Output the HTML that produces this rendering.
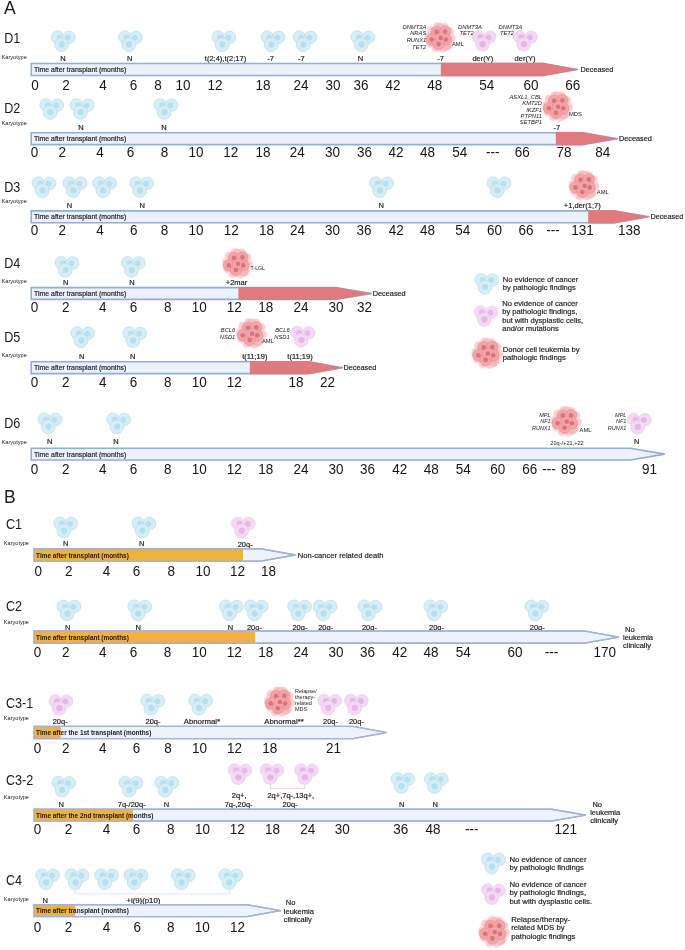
<!DOCTYPE html>
<html><head><meta charset="utf-8"><title>Timeline figure</title>
<style>
html,body{margin:0;padding:0;background:#fff;}
body{width:685px;height:950px;overflow:hidden;}
svg{display:block;will-change:transform;font-family:"Liberation Sans",sans-serif;}
</style></head><body>
<svg width="685" height="950" viewBox="0 0 685 950">

<text x="4.00" y="14.30" font-size="17.5" text-anchor="start" fill="#1a1a1a">A</text>
<text x="0.00" y="0.00" font-size="14" text-anchor="start" fill="#1a1a1a" transform="translate(4.20,43.00) scale(0.9,1.0)">D1</text>
<text x="1.60" y="58.60" font-size="5.6" text-anchor="start" fill="#1a1a1a">Karyotype</text>
<g transform="translate(63.30,41.00)"><g transform="translate(-12.4,-11)"><circle cx="6.7" cy="7.1" r="6.25" fill="#d7eef6" stroke="#bddfec" stroke-width="0.8"/><circle cx="8.5" cy="7.4" r="2.9" fill="#b6e0ee"/><circle cx="18.0" cy="7.3" r="6.25" fill="#d7eef6" stroke="#bddfec" stroke-width="0.8"/><circle cx="16.8" cy="7.6" r="2.9" fill="#b6e0ee"/><circle cx="10.6" cy="14.6" r="6.9" fill="#d7eef6" stroke="#bddfec" stroke-width="0.8"/><circle cx="10.9" cy="14.4" r="3.1" fill="#b6e0ee"/></g></g>
<g transform="translate(130.50,41.00)"><g transform="translate(-12.4,-11)"><circle cx="6.7" cy="7.1" r="6.25" fill="#d7eef6" stroke="#bddfec" stroke-width="0.8"/><circle cx="8.5" cy="7.4" r="2.9" fill="#b6e0ee"/><circle cx="18.0" cy="7.3" r="6.25" fill="#d7eef6" stroke="#bddfec" stroke-width="0.8"/><circle cx="16.8" cy="7.6" r="2.9" fill="#b6e0ee"/><circle cx="10.6" cy="14.6" r="6.9" fill="#d7eef6" stroke="#bddfec" stroke-width="0.8"/><circle cx="10.9" cy="14.4" r="3.1" fill="#b6e0ee"/></g></g>
<g transform="translate(224.00,41.00)"><g transform="translate(-12.4,-11)"><circle cx="6.7" cy="7.1" r="6.25" fill="#d7eef6" stroke="#bddfec" stroke-width="0.8"/><circle cx="8.5" cy="7.4" r="2.9" fill="#b6e0ee"/><circle cx="18.0" cy="7.3" r="6.25" fill="#d7eef6" stroke="#bddfec" stroke-width="0.8"/><circle cx="16.8" cy="7.6" r="2.9" fill="#b6e0ee"/><circle cx="10.6" cy="14.6" r="6.9" fill="#d7eef6" stroke="#bddfec" stroke-width="0.8"/><circle cx="10.9" cy="14.4" r="3.1" fill="#b6e0ee"/></g></g>
<g transform="translate(273.00,41.00)"><g transform="translate(-12.4,-11)"><circle cx="6.7" cy="7.1" r="6.25" fill="#d7eef6" stroke="#bddfec" stroke-width="0.8"/><circle cx="8.5" cy="7.4" r="2.9" fill="#b6e0ee"/><circle cx="18.0" cy="7.3" r="6.25" fill="#d7eef6" stroke="#bddfec" stroke-width="0.8"/><circle cx="16.8" cy="7.6" r="2.9" fill="#b6e0ee"/><circle cx="10.6" cy="14.6" r="6.9" fill="#d7eef6" stroke="#bddfec" stroke-width="0.8"/><circle cx="10.9" cy="14.4" r="3.1" fill="#b6e0ee"/></g></g>
<g transform="translate(305.00,41.00)"><g transform="translate(-12.4,-11)"><circle cx="6.7" cy="7.1" r="6.25" fill="#d7eef6" stroke="#bddfec" stroke-width="0.8"/><circle cx="8.5" cy="7.4" r="2.9" fill="#b6e0ee"/><circle cx="18.0" cy="7.3" r="6.25" fill="#d7eef6" stroke="#bddfec" stroke-width="0.8"/><circle cx="16.8" cy="7.6" r="2.9" fill="#b6e0ee"/><circle cx="10.6" cy="14.6" r="6.9" fill="#d7eef6" stroke="#bddfec" stroke-width="0.8"/><circle cx="10.9" cy="14.4" r="3.1" fill="#b6e0ee"/></g></g>
<g transform="translate(363.00,41.00)"><g transform="translate(-12.4,-11)"><circle cx="6.7" cy="7.1" r="6.25" fill="#d7eef6" stroke="#bddfec" stroke-width="0.8"/><circle cx="8.5" cy="7.4" r="2.9" fill="#b6e0ee"/><circle cx="18.0" cy="7.3" r="6.25" fill="#d7eef6" stroke="#bddfec" stroke-width="0.8"/><circle cx="16.8" cy="7.6" r="2.9" fill="#b6e0ee"/><circle cx="10.6" cy="14.6" r="6.9" fill="#d7eef6" stroke="#bddfec" stroke-width="0.8"/><circle cx="10.9" cy="14.4" r="3.1" fill="#b6e0ee"/></g></g>
<g transform="translate(440.80,37.90)"><g fill="#f9d9db" opacity="0.55"><circle cx="10.36" cy="0.56" r="4.9"/><circle cx="7.70" cy="6.82" r="4.9"/><circle cx="1.87" cy="10.32" r="4.9"/><circle cx="-4.90" cy="9.73" r="4.9"/><circle cx="-10.03" cy="5.27" r="4.9"/><circle cx="-11.56" cy="-1.36" r="4.9"/><circle cx="-8.90" cy="-7.62" r="4.9"/><circle cx="-3.07" cy="-11.12" r="4.9"/><circle cx="3.70" cy="-10.53" r="4.9"/><circle cx="8.83" cy="-6.07" r="4.9"/></g><g fill="#f7c8cb" opacity="0.75"><circle cx="10.36" cy="0.56" r="4.1"/><circle cx="7.70" cy="6.82" r="4.1"/><circle cx="1.87" cy="10.32" r="4.1"/><circle cx="-4.90" cy="9.73" r="4.1"/><circle cx="-10.03" cy="5.27" r="4.1"/><circle cx="-11.56" cy="-1.36" r="4.1"/><circle cx="-8.90" cy="-7.62" r="4.1"/><circle cx="-3.07" cy="-11.12" r="4.1"/><circle cx="3.70" cy="-10.53" r="4.1"/><circle cx="8.83" cy="-6.07" r="4.1"/></g><circle cx="5.5" cy="7.8" r="5" fill="#f5b8bc"/><circle cx="-0.5" cy="-10.5" r="4.5" fill="#f6c0c4"/><g fill="#f3a4a9" stroke="#e68d93" stroke-width="0.6"><circle cx="-4.10" cy="-6.00" r="5.7"/><circle cx="4.30" cy="-6.40" r="5.7"/><circle cx="-9.20" cy="1.60" r="5.7"/><circle cx="5.20" cy="1.60" r="5.7"/><circle cx="-2.20" cy="6.20" r="5.7"/><circle cx="0.00" cy="0.00" r="5.7"/></g><g fill="#d8757c"><circle cx="-4.10" cy="-6.00" r="2.3"/><circle cx="4.30" cy="-6.40" r="2.3"/><circle cx="-9.20" cy="1.60" r="2.3"/><circle cx="5.20" cy="1.60" r="2.3"/><circle cx="-2.20" cy="6.20" r="2.3"/><circle cx="0.00" cy="0.00" r="2.3"/></g></g>
<g transform="translate(484.20,40.80)"><g transform="translate(-12.4,-11)"><circle cx="6.7" cy="7.1" r="6.25" fill="#f4d8f4" stroke="#ebc8ee" stroke-width="0.6"/><circle cx="8.5" cy="7.4" r="2.9" fill="#e2b9e6"/><circle cx="18.0" cy="7.3" r="6.25" fill="#f4d8f4" stroke="#ebc8ee" stroke-width="0.6"/><circle cx="16.8" cy="7.6" r="2.9" fill="#e2b9e6"/><circle cx="10.6" cy="14.6" r="6.9" fill="#f4d8f4" stroke="#ebc8ee" stroke-width="0.6"/><circle cx="10.9" cy="14.4" r="3.1" fill="#e2b9e6"/></g></g>
<g transform="translate(525.50,40.80)"><g transform="translate(-12.4,-11)"><circle cx="6.7" cy="7.1" r="6.25" fill="#f4d8f4" stroke="#ebc8ee" stroke-width="0.6"/><circle cx="8.5" cy="7.4" r="2.9" fill="#e2b9e6"/><circle cx="18.0" cy="7.3" r="6.25" fill="#f4d8f4" stroke="#ebc8ee" stroke-width="0.6"/><circle cx="16.8" cy="7.6" r="2.9" fill="#e2b9e6"/><circle cx="10.6" cy="14.6" r="6.9" fill="#f4d8f4" stroke="#ebc8ee" stroke-width="0.6"/><circle cx="10.9" cy="14.4" r="3.1" fill="#e2b9e6"/></g></g>
<text x="426.30" y="28.80" font-size="5.8" text-anchor="end" font-style="italic" fill="#1a1a1a">DNMT3A</text>
<text x="426.30" y="35.40" font-size="5.8" text-anchor="end" font-style="italic" fill="#1a1a1a">NRAS</text>
<text x="426.30" y="41.90" font-size="5.8" text-anchor="end" font-style="italic" fill="#1a1a1a">RUNX1</text>
<text x="426.30" y="48.60" font-size="5.8" text-anchor="end" font-style="italic" fill="#1a1a1a">TET2</text>
<text x="452.00" y="46.00" font-size="5.8" text-anchor="start" fill="#1a1a1a">AML</text>
<text x="470.00" y="28.90" font-size="5.8" text-anchor="middle" font-style="italic" fill="#1a1a1a">DNMT3A</text>
<text x="466.60" y="35.40" font-size="5.8" text-anchor="middle" font-style="italic" fill="#1a1a1a">TET2</text>
<text x="510.50" y="28.90" font-size="5.8" text-anchor="middle" font-style="italic" fill="#1a1a1a">DNMT3A</text>
<text x="507.00" y="35.40" font-size="5.8" text-anchor="middle" font-style="italic" fill="#1a1a1a">TET2</text>
<text x="63.00" y="60.60" font-size="7.5" text-anchor="middle" fill="#1a1a1a" stroke="#1a1a1a" stroke-width="0.18">N</text>
<text x="129.70" y="60.60" font-size="7.5" text-anchor="middle" fill="#1a1a1a" stroke="#1a1a1a" stroke-width="0.18">N</text>
<text x="225.50" y="60.60" font-size="7.5" text-anchor="middle" fill="#1a1a1a" stroke="#1a1a1a" stroke-width="0.18">t(2;4),t(2;17)</text>
<text x="270.60" y="60.60" font-size="7.5" text-anchor="middle" fill="#1a1a1a" stroke="#1a1a1a" stroke-width="0.18">-7</text>
<text x="301.40" y="60.60" font-size="7.5" text-anchor="middle" fill="#1a1a1a" stroke="#1a1a1a" stroke-width="0.18">-7</text>
<text x="360.50" y="60.60" font-size="7.5" text-anchor="middle" fill="#1a1a1a" stroke="#1a1a1a" stroke-width="0.18">N</text>
<text x="440.60" y="60.60" font-size="7.5" text-anchor="middle" fill="#1a1a1a" stroke="#1a1a1a" stroke-width="0.18">-7</text>
<text x="482.80" y="60.60" font-size="7.5" text-anchor="middle" fill="#1a1a1a" stroke="#1a1a1a" stroke-width="0.18">der(Y)</text>
<text x="525.00" y="60.60" font-size="7.5" text-anchor="middle" fill="#1a1a1a" stroke="#1a1a1a" stroke-width="0.18">der(Y)</text>
<polygon points="31.3,63.45 543,63.45 578,69.5 543,75.55 31.3,75.55" fill="#ecf2fb" stroke="#93acda" stroke-width="1.6" stroke-linejoin="miter"/>
<polygon points="440.8,62.75 543,62.75 578.5,69.5 543,76.25 440.8,76.25" fill="#e07a7e"/>
<text x="0.00" y="0.00" font-size="7.2" text-anchor="start" fill="#1a1a1a" stroke="#1a1a1a" stroke-width="0.18" transform="translate(34.10,72.10) scale(0.96,1.0)">Time after transplant (months)</text>
<text x="580.50" y="72.00" font-size="7.3" text-anchor="start" fill="#1a1a1a" stroke="#1a1a1a" stroke-width="0.18">Deceased</text>
<text x="0.00" y="0.00" font-size="13.5" text-anchor="middle" fill="#151515" transform="translate(35.00,89.80) scale(1.0,1.08)">0</text>
<text x="0.00" y="0.00" font-size="13.5" text-anchor="middle" fill="#151515" transform="translate(66.00,89.80) scale(1.0,1.08)">2</text>
<text x="0.00" y="0.00" font-size="13.5" text-anchor="middle" fill="#151515" transform="translate(103.00,89.80) scale(1.0,1.08)">4</text>
<text x="0.00" y="0.00" font-size="13.5" text-anchor="middle" fill="#151515" transform="translate(133.60,89.80) scale(1.0,1.08)">6</text>
<text x="0.00" y="0.00" font-size="13.5" text-anchor="middle" fill="#151515" transform="translate(158.00,89.80) scale(1.0,1.08)">8</text>
<text x="0.00" y="0.00" font-size="13.5" text-anchor="middle" fill="#151515" transform="translate(183.00,89.80) scale(1.0,1.08)">10</text>
<text x="0.00" y="0.00" font-size="13.5" text-anchor="middle" fill="#151515" transform="translate(215.00,89.80) scale(1.0,1.08)">12</text>
<text x="0.00" y="0.00" font-size="13.5" text-anchor="middle" fill="#151515" transform="translate(262.90,89.80) scale(1.0,1.08)">18</text>
<text x="0.00" y="0.00" font-size="13.5" text-anchor="middle" fill="#151515" transform="translate(301.00,89.80) scale(1.0,1.08)">24</text>
<text x="0.00" y="0.00" font-size="13.5" text-anchor="middle" fill="#151515" transform="translate(333.00,89.80) scale(1.0,1.08)">30</text>
<text x="0.00" y="0.00" font-size="13.5" text-anchor="middle" fill="#151515" transform="translate(361.00,89.80) scale(1.0,1.08)">36</text>
<text x="0.00" y="0.00" font-size="13.5" text-anchor="middle" fill="#151515" transform="translate(393.00,89.80) scale(1.0,1.08)">42</text>
<text x="0.00" y="0.00" font-size="13.5" text-anchor="middle" fill="#151515" transform="translate(434.70,89.80) scale(1.0,1.08)">48</text>
<text x="0.00" y="0.00" font-size="13.5" text-anchor="middle" fill="#151515" transform="translate(486.70,89.80) scale(1.0,1.08)">54</text>
<text x="0.00" y="0.00" font-size="13.5" text-anchor="middle" fill="#151515" transform="translate(531.00,89.80) scale(1.0,1.08)">60</text>
<text x="0.00" y="0.00" font-size="13.5" text-anchor="middle" fill="#151515" transform="translate(572.80,89.80) scale(1.0,1.08)">66</text>
<text x="0.00" y="0.00" font-size="14" text-anchor="start" fill="#1a1a1a" transform="translate(4.20,112.80) scale(0.9,1.0)">D2</text>
<text x="1.60" y="124.50" font-size="5.6" text-anchor="start" fill="#1a1a1a">Karyotype</text>
<g transform="translate(51.80,108.80)"><g transform="translate(-12.4,-11)"><circle cx="6.7" cy="7.1" r="6.25" fill="#d7eef6" stroke="#bddfec" stroke-width="0.8"/><circle cx="8.5" cy="7.4" r="2.9" fill="#b6e0ee"/><circle cx="18.0" cy="7.3" r="6.25" fill="#d7eef6" stroke="#bddfec" stroke-width="0.8"/><circle cx="16.8" cy="7.6" r="2.9" fill="#b6e0ee"/><circle cx="10.6" cy="14.6" r="6.9" fill="#d7eef6" stroke="#bddfec" stroke-width="0.8"/><circle cx="10.9" cy="14.4" r="3.1" fill="#b6e0ee"/></g></g>
<g transform="translate(82.20,108.80)"><g transform="translate(-12.4,-11)"><circle cx="6.7" cy="7.1" r="6.25" fill="#d7eef6" stroke="#bddfec" stroke-width="0.8"/><circle cx="8.5" cy="7.4" r="2.9" fill="#b6e0ee"/><circle cx="18.0" cy="7.3" r="6.25" fill="#d7eef6" stroke="#bddfec" stroke-width="0.8"/><circle cx="16.8" cy="7.6" r="2.9" fill="#b6e0ee"/><circle cx="10.6" cy="14.6" r="6.9" fill="#d7eef6" stroke="#bddfec" stroke-width="0.8"/><circle cx="10.9" cy="14.4" r="3.1" fill="#b6e0ee"/></g></g>
<g transform="translate(166.00,108.80)"><g transform="translate(-12.4,-11)"><circle cx="6.7" cy="7.1" r="6.25" fill="#d7eef6" stroke="#bddfec" stroke-width="0.8"/><circle cx="8.5" cy="7.4" r="2.9" fill="#b6e0ee"/><circle cx="18.0" cy="7.3" r="6.25" fill="#d7eef6" stroke="#bddfec" stroke-width="0.8"/><circle cx="16.8" cy="7.6" r="2.9" fill="#b6e0ee"/><circle cx="10.6" cy="14.6" r="6.9" fill="#d7eef6" stroke="#bddfec" stroke-width="0.8"/><circle cx="10.9" cy="14.4" r="3.1" fill="#b6e0ee"/></g></g>
<g transform="translate(558.10,106.70)"><g fill="#f9d9db" opacity="0.55"><circle cx="10.36" cy="0.56" r="4.9"/><circle cx="7.70" cy="6.82" r="4.9"/><circle cx="1.87" cy="10.32" r="4.9"/><circle cx="-4.90" cy="9.73" r="4.9"/><circle cx="-10.03" cy="5.27" r="4.9"/><circle cx="-11.56" cy="-1.36" r="4.9"/><circle cx="-8.90" cy="-7.62" r="4.9"/><circle cx="-3.07" cy="-11.12" r="4.9"/><circle cx="3.70" cy="-10.53" r="4.9"/><circle cx="8.83" cy="-6.07" r="4.9"/></g><g fill="#f7c8cb" opacity="0.75"><circle cx="10.36" cy="0.56" r="4.1"/><circle cx="7.70" cy="6.82" r="4.1"/><circle cx="1.87" cy="10.32" r="4.1"/><circle cx="-4.90" cy="9.73" r="4.1"/><circle cx="-10.03" cy="5.27" r="4.1"/><circle cx="-11.56" cy="-1.36" r="4.1"/><circle cx="-8.90" cy="-7.62" r="4.1"/><circle cx="-3.07" cy="-11.12" r="4.1"/><circle cx="3.70" cy="-10.53" r="4.1"/><circle cx="8.83" cy="-6.07" r="4.1"/></g><circle cx="5.5" cy="7.8" r="5" fill="#f5b8bc"/><circle cx="-0.5" cy="-10.5" r="4.5" fill="#f6c0c4"/><g fill="#f3a4a9" stroke="#e68d93" stroke-width="0.6"><circle cx="-4.10" cy="-6.00" r="5.7"/><circle cx="4.30" cy="-6.40" r="5.7"/><circle cx="-9.20" cy="1.60" r="5.7"/><circle cx="5.20" cy="1.60" r="5.7"/><circle cx="-2.20" cy="6.20" r="5.7"/><circle cx="0.00" cy="0.00" r="5.7"/></g><g fill="#d8757c"><circle cx="-4.10" cy="-6.00" r="2.3"/><circle cx="4.30" cy="-6.40" r="2.3"/><circle cx="-9.20" cy="1.60" r="2.3"/><circle cx="5.20" cy="1.60" r="2.3"/><circle cx="-2.20" cy="6.20" r="2.3"/><circle cx="0.00" cy="0.00" r="2.3"/></g></g>
<text x="542.00" y="98.80" font-size="5.8" text-anchor="end" font-style="italic" fill="#1a1a1a">ASXL1, CBL</text>
<text x="542.00" y="105.40" font-size="5.8" text-anchor="end" font-style="italic" fill="#1a1a1a">KMT2D</text>
<text x="542.00" y="111.60" font-size="5.8" text-anchor="end" font-style="italic" fill="#1a1a1a">IKZF1</text>
<text x="542.00" y="118.00" font-size="5.8" text-anchor="end" font-style="italic" fill="#1a1a1a">PTPN11</text>
<text x="542.00" y="124.40" font-size="5.8" text-anchor="end" font-style="italic" fill="#1a1a1a">SETBP1</text>
<text x="569.00" y="115.50" font-size="5.8" text-anchor="start" fill="#1a1a1a">MDS</text>
<text x="80.90" y="130.20" font-size="7.5" text-anchor="middle" fill="#1a1a1a" stroke="#1a1a1a" stroke-width="0.18">N</text>
<text x="164.00" y="130.20" font-size="7.5" text-anchor="middle" fill="#1a1a1a" stroke="#1a1a1a" stroke-width="0.18">N</text>
<text x="556.80" y="130.20" font-size="7.5" text-anchor="middle" fill="#1a1a1a" stroke="#1a1a1a" stroke-width="0.18">-7</text>
<polygon points="31.2,132.8 582.4,132.8 617.7,138.7 582.4,144.6 31.2,144.6" fill="#ecf2fb" stroke="#93acda" stroke-width="1.6" stroke-linejoin="miter"/>
<polygon points="555.8,132.10000000000002 582.4,132.10000000000002 618.2,138.7 582.4,145.29999999999998 555.8,145.29999999999998" fill="#e07a7e"/>
<text x="0.00" y="0.00" font-size="7.2" text-anchor="start" fill="#1a1a1a" stroke="#1a1a1a" stroke-width="0.18" transform="translate(34.10,141.30) scale(0.96,1.0)">Time after transplant (months)</text>
<text x="619.00" y="141.30" font-size="7.3" text-anchor="start" fill="#1a1a1a" stroke="#1a1a1a" stroke-width="0.18">Deceased</text>
<text x="0.00" y="0.00" font-size="13.5" text-anchor="middle" fill="#151515" transform="translate(34.50,157.20) scale(1.0,1.08)">0</text>
<text x="0.00" y="0.00" font-size="13.5" text-anchor="middle" fill="#151515" transform="translate(62.20,157.20) scale(1.0,1.08)">2</text>
<text x="0.00" y="0.00" font-size="13.5" text-anchor="middle" fill="#151515" transform="translate(99.90,157.20) scale(1.0,1.08)">4</text>
<text x="0.00" y="0.00" font-size="13.5" text-anchor="middle" fill="#151515" transform="translate(130.50,157.20) scale(1.0,1.08)">6</text>
<text x="0.00" y="0.00" font-size="13.5" text-anchor="middle" fill="#151515" transform="translate(164.40,157.20) scale(1.0,1.08)">8</text>
<text x="0.00" y="0.00" font-size="13.5" text-anchor="middle" fill="#151515" transform="translate(196.00,157.20) scale(1.0,1.08)">10</text>
<text x="0.00" y="0.00" font-size="13.5" text-anchor="middle" fill="#151515" transform="translate(230.70,157.20) scale(1.0,1.08)">12</text>
<text x="0.00" y="0.00" font-size="13.5" text-anchor="middle" fill="#151515" transform="translate(262.90,157.20) scale(1.0,1.08)">18</text>
<text x="0.00" y="0.00" font-size="13.5" text-anchor="middle" fill="#151515" transform="translate(297.20,157.20) scale(1.0,1.08)">24</text>
<text x="0.00" y="0.00" font-size="13.5" text-anchor="middle" fill="#151515" transform="translate(332.50,157.20) scale(1.0,1.08)">30</text>
<text x="0.00" y="0.00" font-size="13.5" text-anchor="middle" fill="#151515" transform="translate(364.60,157.20) scale(1.0,1.08)">36</text>
<text x="0.00" y="0.00" font-size="13.5" text-anchor="middle" fill="#151515" transform="translate(396.00,157.20) scale(1.0,1.08)">42</text>
<text x="0.00" y="0.00" font-size="13.5" text-anchor="middle" fill="#151515" transform="translate(427.40,157.20) scale(1.0,1.08)">48</text>
<text x="0.00" y="0.00" font-size="13.5" text-anchor="middle" fill="#151515" transform="translate(459.70,157.20) scale(1.0,1.08)">54</text>
<text x="0.00" y="0.00" font-size="13.5" text-anchor="middle" fill="#151515" transform="translate(492.70,157.20) scale(1.0,1.08)">---</text>
<text x="0.00" y="0.00" font-size="13.5" text-anchor="middle" fill="#151515" transform="translate(522.30,157.20) scale(1.0,1.08)">66</text>
<text x="0.00" y="0.00" font-size="13.5" text-anchor="middle" fill="#151515" transform="translate(564.00,157.20) scale(1.0,1.08)">78</text>
<text x="0.00" y="0.00" font-size="13.5" text-anchor="middle" fill="#151515" transform="translate(602.80,157.20) scale(1.0,1.08)">84</text>
<text x="0.00" y="0.00" font-size="14" text-anchor="start" fill="#1a1a1a" transform="translate(4.20,191.50) scale(0.9,1.0)">D3</text>
<text x="1.60" y="203.00" font-size="5.6" text-anchor="start" fill="#1a1a1a">Karyotype</text>
<g transform="translate(44.00,187.00)"><g transform="translate(-12.4,-11)"><circle cx="6.7" cy="7.1" r="6.25" fill="#d7eef6" stroke="#bddfec" stroke-width="0.8"/><circle cx="8.5" cy="7.4" r="2.9" fill="#b6e0ee"/><circle cx="18.0" cy="7.3" r="6.25" fill="#d7eef6" stroke="#bddfec" stroke-width="0.8"/><circle cx="16.8" cy="7.6" r="2.9" fill="#b6e0ee"/><circle cx="10.6" cy="14.6" r="6.9" fill="#d7eef6" stroke="#bddfec" stroke-width="0.8"/><circle cx="10.9" cy="14.4" r="3.1" fill="#b6e0ee"/></g></g>
<g transform="translate(75.00,187.00)"><g transform="translate(-12.4,-11)"><circle cx="6.7" cy="7.1" r="6.25" fill="#d7eef6" stroke="#bddfec" stroke-width="0.8"/><circle cx="8.5" cy="7.4" r="2.9" fill="#b6e0ee"/><circle cx="18.0" cy="7.3" r="6.25" fill="#d7eef6" stroke="#bddfec" stroke-width="0.8"/><circle cx="16.8" cy="7.6" r="2.9" fill="#b6e0ee"/><circle cx="10.6" cy="14.6" r="6.9" fill="#d7eef6" stroke="#bddfec" stroke-width="0.8"/><circle cx="10.9" cy="14.4" r="3.1" fill="#b6e0ee"/></g></g>
<g transform="translate(104.80,187.00)"><g transform="translate(-12.4,-11)"><circle cx="6.7" cy="7.1" r="6.25" fill="#d7eef6" stroke="#bddfec" stroke-width="0.8"/><circle cx="8.5" cy="7.4" r="2.9" fill="#b6e0ee"/><circle cx="18.0" cy="7.3" r="6.25" fill="#d7eef6" stroke="#bddfec" stroke-width="0.8"/><circle cx="16.8" cy="7.6" r="2.9" fill="#b6e0ee"/><circle cx="10.6" cy="14.6" r="6.9" fill="#d7eef6" stroke="#bddfec" stroke-width="0.8"/><circle cx="10.9" cy="14.4" r="3.1" fill="#b6e0ee"/></g></g>
<g transform="translate(141.60,187.00)"><g transform="translate(-12.4,-11)"><circle cx="6.7" cy="7.1" r="6.25" fill="#d7eef6" stroke="#bddfec" stroke-width="0.8"/><circle cx="8.5" cy="7.4" r="2.9" fill="#b6e0ee"/><circle cx="18.0" cy="7.3" r="6.25" fill="#d7eef6" stroke="#bddfec" stroke-width="0.8"/><circle cx="16.8" cy="7.6" r="2.9" fill="#b6e0ee"/><circle cx="10.6" cy="14.6" r="6.9" fill="#d7eef6" stroke="#bddfec" stroke-width="0.8"/><circle cx="10.9" cy="14.4" r="3.1" fill="#b6e0ee"/></g></g>
<g transform="translate(381.50,187.00)"><g transform="translate(-12.4,-11)"><circle cx="6.7" cy="7.1" r="6.25" fill="#d7eef6" stroke="#bddfec" stroke-width="0.8"/><circle cx="8.5" cy="7.4" r="2.9" fill="#b6e0ee"/><circle cx="18.0" cy="7.3" r="6.25" fill="#d7eef6" stroke="#bddfec" stroke-width="0.8"/><circle cx="16.8" cy="7.6" r="2.9" fill="#b6e0ee"/><circle cx="10.6" cy="14.6" r="6.9" fill="#d7eef6" stroke="#bddfec" stroke-width="0.8"/><circle cx="10.9" cy="14.4" r="3.1" fill="#b6e0ee"/></g></g>
<g transform="translate(499.00,187.00)"><g transform="translate(-12.4,-11)"><circle cx="6.7" cy="7.1" r="6.25" fill="#d7eef6" stroke="#bddfec" stroke-width="0.8"/><circle cx="8.5" cy="7.4" r="2.9" fill="#b6e0ee"/><circle cx="18.0" cy="7.3" r="6.25" fill="#d7eef6" stroke="#bddfec" stroke-width="0.8"/><circle cx="16.8" cy="7.6" r="2.9" fill="#b6e0ee"/><circle cx="10.6" cy="14.6" r="6.9" fill="#d7eef6" stroke="#bddfec" stroke-width="0.8"/><circle cx="10.9" cy="14.4" r="3.1" fill="#b6e0ee"/></g></g>
<g transform="translate(584.50,185.80)"><g fill="#f9d9db" opacity="0.55"><circle cx="10.36" cy="0.56" r="4.9"/><circle cx="7.70" cy="6.82" r="4.9"/><circle cx="1.87" cy="10.32" r="4.9"/><circle cx="-4.90" cy="9.73" r="4.9"/><circle cx="-10.03" cy="5.27" r="4.9"/><circle cx="-11.56" cy="-1.36" r="4.9"/><circle cx="-8.90" cy="-7.62" r="4.9"/><circle cx="-3.07" cy="-11.12" r="4.9"/><circle cx="3.70" cy="-10.53" r="4.9"/><circle cx="8.83" cy="-6.07" r="4.9"/></g><g fill="#f7c8cb" opacity="0.75"><circle cx="10.36" cy="0.56" r="4.1"/><circle cx="7.70" cy="6.82" r="4.1"/><circle cx="1.87" cy="10.32" r="4.1"/><circle cx="-4.90" cy="9.73" r="4.1"/><circle cx="-10.03" cy="5.27" r="4.1"/><circle cx="-11.56" cy="-1.36" r="4.1"/><circle cx="-8.90" cy="-7.62" r="4.1"/><circle cx="-3.07" cy="-11.12" r="4.1"/><circle cx="3.70" cy="-10.53" r="4.1"/><circle cx="8.83" cy="-6.07" r="4.1"/></g><circle cx="5.5" cy="7.8" r="5" fill="#f5b8bc"/><circle cx="-0.5" cy="-10.5" r="4.5" fill="#f6c0c4"/><g fill="#f3a4a9" stroke="#e68d93" stroke-width="0.6"><circle cx="-4.10" cy="-6.00" r="5.7"/><circle cx="4.30" cy="-6.40" r="5.7"/><circle cx="-9.20" cy="1.60" r="5.7"/><circle cx="5.20" cy="1.60" r="5.7"/><circle cx="-2.20" cy="6.20" r="5.7"/><circle cx="0.00" cy="0.00" r="5.7"/></g><g fill="#d8757c"><circle cx="-4.10" cy="-6.00" r="2.3"/><circle cx="4.30" cy="-6.40" r="2.3"/><circle cx="-9.20" cy="1.60" r="2.3"/><circle cx="5.20" cy="1.60" r="2.3"/><circle cx="-2.20" cy="6.20" r="2.3"/><circle cx="0.00" cy="0.00" r="2.3"/></g></g>
<text x="596.80" y="194.30" font-size="5.8" text-anchor="start" fill="#1a1a1a">AML</text>
<text x="69.50" y="208.30" font-size="7.5" text-anchor="middle" fill="#1a1a1a" stroke="#1a1a1a" stroke-width="0.18">N</text>
<text x="142.20" y="208.30" font-size="7.5" text-anchor="middle" fill="#1a1a1a" stroke="#1a1a1a" stroke-width="0.18">N</text>
<text x="381.10" y="208.30" font-size="7.5" text-anchor="middle" fill="#1a1a1a" stroke="#1a1a1a" stroke-width="0.18">N</text>
<text x="582.30" y="208.30" font-size="7.5" text-anchor="middle" fill="#1a1a1a" stroke="#1a1a1a" stroke-width="0.18">+1,der(1;7)</text>
<polygon points="31.2,210.9 614.4,210.9 649.3,216.8 614.4,222.7 31.2,222.7" fill="#ecf2fb" stroke="#93acda" stroke-width="1.6" stroke-linejoin="miter"/>
<polygon points="588.2,210.20000000000002 614.4,210.20000000000002 649.8,216.8 614.4,223.39999999999998 588.2,223.39999999999998" fill="#e07a7e"/>
<text x="0.00" y="0.00" font-size="7.2" text-anchor="start" fill="#1a1a1a" stroke="#1a1a1a" stroke-width="0.18" transform="translate(34.10,219.40) scale(0.96,1.0)">Time after transplant (months)</text>
<text x="650.40" y="218.90" font-size="7.3" text-anchor="start" fill="#1a1a1a" stroke="#1a1a1a" stroke-width="0.18">Deceased</text>
<text x="0.00" y="0.00" font-size="13.5" text-anchor="middle" fill="#151515" transform="translate(34.50,235.20) scale(1.0,1.08)">0</text>
<text x="0.00" y="0.00" font-size="13.5" text-anchor="middle" fill="#151515" transform="translate(62.20,235.20) scale(1.0,1.08)">2</text>
<text x="0.00" y="0.00" font-size="13.5" text-anchor="middle" fill="#151515" transform="translate(99.90,235.20) scale(1.0,1.08)">4</text>
<text x="0.00" y="0.00" font-size="13.5" text-anchor="middle" fill="#151515" transform="translate(133.70,235.20) scale(1.0,1.08)">6</text>
<text x="0.00" y="0.00" font-size="13.5" text-anchor="middle" fill="#151515" transform="translate(164.40,235.20) scale(1.0,1.08)">8</text>
<text x="0.00" y="0.00" font-size="13.5" text-anchor="middle" fill="#151515" transform="translate(196.00,235.20) scale(1.0,1.08)">10</text>
<text x="0.00" y="0.00" font-size="13.5" text-anchor="middle" fill="#151515" transform="translate(231.20,235.20) scale(1.0,1.08)">12</text>
<text x="0.00" y="0.00" font-size="13.5" text-anchor="middle" fill="#151515" transform="translate(266.50,235.20) scale(1.0,1.08)">18</text>
<text x="0.00" y="0.00" font-size="13.5" text-anchor="middle" fill="#151515" transform="translate(297.60,235.20) scale(1.0,1.08)">24</text>
<text x="0.00" y="0.00" font-size="13.5" text-anchor="middle" fill="#151515" transform="translate(332.60,235.20) scale(1.0,1.08)">30</text>
<text x="0.00" y="0.00" font-size="13.5" text-anchor="middle" fill="#151515" transform="translate(364.00,235.20) scale(1.0,1.08)">36</text>
<text x="0.00" y="0.00" font-size="13.5" text-anchor="middle" fill="#151515" transform="translate(396.30,235.20) scale(1.0,1.08)">42</text>
<text x="0.00" y="0.00" font-size="13.5" text-anchor="middle" fill="#151515" transform="translate(427.40,235.20) scale(1.0,1.08)">48</text>
<text x="0.00" y="0.00" font-size="13.5" text-anchor="middle" fill="#151515" transform="translate(462.80,235.20) scale(1.0,1.08)">54</text>
<text x="0.00" y="0.00" font-size="13.5" text-anchor="middle" fill="#151515" transform="translate(494.40,235.20) scale(1.0,1.08)">60</text>
<text x="0.00" y="0.00" font-size="13.5" text-anchor="middle" fill="#151515" transform="translate(526.00,235.20) scale(1.0,1.08)">66</text>
<text x="0.00" y="0.00" font-size="13.5" text-anchor="middle" fill="#151515" transform="translate(552.90,235.20) scale(1.0,1.08)">---</text>
<text x="0.00" y="0.00" font-size="13.5" text-anchor="middle" fill="#151515" transform="translate(582.60,235.20) scale(1.0,1.08)">131</text>
<text x="0.00" y="0.00" font-size="13.5" text-anchor="middle" fill="#151515" transform="translate(629.20,235.20) scale(1.0,1.08)">138</text>
<text x="0.00" y="0.00" font-size="14" text-anchor="start" fill="#1a1a1a" transform="translate(4.20,267.70) scale(0.9,1.0)">D4</text>
<text x="1.60" y="282.50" font-size="5.6" text-anchor="start" fill="#1a1a1a">Karyotype</text>
<g transform="translate(67.00,266.70)"><g transform="translate(-12.4,-11)"><circle cx="6.7" cy="7.1" r="6.25" fill="#d7eef6" stroke="#bddfec" stroke-width="0.8"/><circle cx="8.5" cy="7.4" r="2.9" fill="#b6e0ee"/><circle cx="18.0" cy="7.3" r="6.25" fill="#d7eef6" stroke="#bddfec" stroke-width="0.8"/><circle cx="16.8" cy="7.6" r="2.9" fill="#b6e0ee"/><circle cx="10.6" cy="14.6" r="6.9" fill="#d7eef6" stroke="#bddfec" stroke-width="0.8"/><circle cx="10.9" cy="14.4" r="3.1" fill="#b6e0ee"/></g></g>
<g transform="translate(133.30,266.70)"><g transform="translate(-12.4,-11)"><circle cx="6.7" cy="7.1" r="6.25" fill="#d7eef6" stroke="#bddfec" stroke-width="0.8"/><circle cx="8.5" cy="7.4" r="2.9" fill="#b6e0ee"/><circle cx="18.0" cy="7.3" r="6.25" fill="#d7eef6" stroke="#bddfec" stroke-width="0.8"/><circle cx="16.8" cy="7.6" r="2.9" fill="#b6e0ee"/><circle cx="10.6" cy="14.6" r="6.9" fill="#d7eef6" stroke="#bddfec" stroke-width="0.8"/><circle cx="10.9" cy="14.4" r="3.1" fill="#b6e0ee"/></g></g>
<g transform="translate(238.10,263.80)"><g fill="#f9d9db" opacity="0.55"><circle cx="10.36" cy="0.56" r="4.9"/><circle cx="7.70" cy="6.82" r="4.9"/><circle cx="1.87" cy="10.32" r="4.9"/><circle cx="-4.90" cy="9.73" r="4.9"/><circle cx="-10.03" cy="5.27" r="4.9"/><circle cx="-11.56" cy="-1.36" r="4.9"/><circle cx="-8.90" cy="-7.62" r="4.9"/><circle cx="-3.07" cy="-11.12" r="4.9"/><circle cx="3.70" cy="-10.53" r="4.9"/><circle cx="8.83" cy="-6.07" r="4.9"/></g><g fill="#f7c8cb" opacity="0.75"><circle cx="10.36" cy="0.56" r="4.1"/><circle cx="7.70" cy="6.82" r="4.1"/><circle cx="1.87" cy="10.32" r="4.1"/><circle cx="-4.90" cy="9.73" r="4.1"/><circle cx="-10.03" cy="5.27" r="4.1"/><circle cx="-11.56" cy="-1.36" r="4.1"/><circle cx="-8.90" cy="-7.62" r="4.1"/><circle cx="-3.07" cy="-11.12" r="4.1"/><circle cx="3.70" cy="-10.53" r="4.1"/><circle cx="8.83" cy="-6.07" r="4.1"/></g><circle cx="5.5" cy="7.8" r="5" fill="#f5b8bc"/><circle cx="-0.5" cy="-10.5" r="4.5" fill="#f6c0c4"/><g fill="#f3a4a9" stroke="#e68d93" stroke-width="0.6"><circle cx="-4.10" cy="-6.00" r="5.7"/><circle cx="4.30" cy="-6.40" r="5.7"/><circle cx="-9.20" cy="1.60" r="5.7"/><circle cx="5.20" cy="1.60" r="5.7"/><circle cx="-2.20" cy="6.20" r="5.7"/><circle cx="0.00" cy="0.00" r="5.7"/></g><g fill="#d8757c"><circle cx="-4.10" cy="-6.00" r="2.3"/><circle cx="4.30" cy="-6.40" r="2.3"/><circle cx="-9.20" cy="1.60" r="2.3"/><circle cx="5.20" cy="1.60" r="2.3"/><circle cx="-2.20" cy="6.20" r="2.3"/><circle cx="0.00" cy="0.00" r="2.3"/></g></g>
<text x="250.60" y="270.40" font-size="5.2" text-anchor="start" fill="#1a1a1a">T-LGL</text>
<text x="65.70" y="284.70" font-size="7.5" text-anchor="middle" fill="#1a1a1a" stroke="#1a1a1a" stroke-width="0.18">N</text>
<text x="132.00" y="284.70" font-size="7.5" text-anchor="middle" fill="#1a1a1a" stroke="#1a1a1a" stroke-width="0.18">N</text>
<text x="236.50" y="284.70" font-size="7.5" text-anchor="middle" fill="#1a1a1a" stroke="#1a1a1a" stroke-width="0.18">+2mar</text>
<polygon points="31.2,287.6 335.3,287.6 372.0,293.5 335.3,299.4 31.2,299.4" fill="#ecf2fb" stroke="#93acda" stroke-width="1.6" stroke-linejoin="miter"/>
<polygon points="238.4,286.90000000000003 335.3,286.90000000000003 372.5,293.5 335.3,300.09999999999997 238.4,300.09999999999997" fill="#e07a7e"/>
<text x="0.00" y="0.00" font-size="7.2" text-anchor="start" fill="#1a1a1a" stroke="#1a1a1a" stroke-width="0.18" transform="translate(34.10,296.10) scale(0.96,1.0)">Time after transplant (months)</text>
<text x="372.80" y="296.20" font-size="7.3" text-anchor="start" fill="#1a1a1a" stroke="#1a1a1a" stroke-width="0.18">Deceased</text>
<text x="0.00" y="0.00" font-size="13.5" text-anchor="middle" fill="#151515" transform="translate(34.50,311.50) scale(1.0,1.08)">0</text>
<text x="0.00" y="0.00" font-size="13.5" text-anchor="middle" fill="#151515" transform="translate(65.70,311.50) scale(1.0,1.08)">2</text>
<text x="0.00" y="0.00" font-size="13.5" text-anchor="middle" fill="#151515" transform="translate(102.80,311.50) scale(1.0,1.08)">4</text>
<text x="0.00" y="0.00" font-size="13.5" text-anchor="middle" fill="#151515" transform="translate(133.40,311.50) scale(1.0,1.08)">6</text>
<text x="0.00" y="0.00" font-size="13.5" text-anchor="middle" fill="#151515" transform="translate(167.80,311.50) scale(1.0,1.08)">8</text>
<text x="0.00" y="0.00" font-size="13.5" text-anchor="middle" fill="#151515" transform="translate(199.30,311.50) scale(1.0,1.08)">10</text>
<text x="0.00" y="0.00" font-size="13.5" text-anchor="middle" fill="#151515" transform="translate(234.30,311.50) scale(1.0,1.08)">12</text>
<text x="0.00" y="0.00" font-size="13.5" text-anchor="middle" fill="#151515" transform="translate(265.70,311.50) scale(1.0,1.08)">18</text>
<text x="0.00" y="0.00" font-size="13.5" text-anchor="middle" fill="#151515" transform="translate(301.00,311.50) scale(1.0,1.08)">24</text>
<text x="0.00" y="0.00" font-size="13.5" text-anchor="middle" fill="#151515" transform="translate(336.00,311.50) scale(1.0,1.08)">30</text>
<text x="0.00" y="0.00" font-size="13.5" text-anchor="middle" fill="#151515" transform="translate(364.40,311.50) scale(1.0,1.08)">32</text>
<text x="0.00" y="0.00" font-size="14" text-anchor="start" fill="#1a1a1a" transform="translate(4.20,341.50) scale(0.9,1.0)">D5</text>
<text x="1.60" y="357.00" font-size="5.6" text-anchor="start" fill="#1a1a1a">Karyotype</text>
<g transform="translate(82.80,337.00)"><g transform="translate(-12.4,-11)"><circle cx="6.7" cy="7.1" r="6.25" fill="#d7eef6" stroke="#bddfec" stroke-width="0.8"/><circle cx="8.5" cy="7.4" r="2.9" fill="#b6e0ee"/><circle cx="18.0" cy="7.3" r="6.25" fill="#d7eef6" stroke="#bddfec" stroke-width="0.8"/><circle cx="16.8" cy="7.6" r="2.9" fill="#b6e0ee"/><circle cx="10.6" cy="14.6" r="6.9" fill="#d7eef6" stroke="#bddfec" stroke-width="0.8"/><circle cx="10.9" cy="14.4" r="3.1" fill="#b6e0ee"/></g></g>
<g transform="translate(134.70,337.00)"><g transform="translate(-12.4,-11)"><circle cx="6.7" cy="7.1" r="6.25" fill="#d7eef6" stroke="#bddfec" stroke-width="0.8"/><circle cx="8.5" cy="7.4" r="2.9" fill="#b6e0ee"/><circle cx="18.0" cy="7.3" r="6.25" fill="#d7eef6" stroke="#bddfec" stroke-width="0.8"/><circle cx="16.8" cy="7.6" r="2.9" fill="#b6e0ee"/><circle cx="10.6" cy="14.6" r="6.9" fill="#d7eef6" stroke="#bddfec" stroke-width="0.8"/><circle cx="10.9" cy="14.4" r="3.1" fill="#b6e0ee"/></g></g>
<g transform="translate(252.00,333.70)"><g fill="#f9d9db" opacity="0.55"><circle cx="10.36" cy="0.56" r="4.9"/><circle cx="7.70" cy="6.82" r="4.9"/><circle cx="1.87" cy="10.32" r="4.9"/><circle cx="-4.90" cy="9.73" r="4.9"/><circle cx="-10.03" cy="5.27" r="4.9"/><circle cx="-11.56" cy="-1.36" r="4.9"/><circle cx="-8.90" cy="-7.62" r="4.9"/><circle cx="-3.07" cy="-11.12" r="4.9"/><circle cx="3.70" cy="-10.53" r="4.9"/><circle cx="8.83" cy="-6.07" r="4.9"/></g><g fill="#f7c8cb" opacity="0.75"><circle cx="10.36" cy="0.56" r="4.1"/><circle cx="7.70" cy="6.82" r="4.1"/><circle cx="1.87" cy="10.32" r="4.1"/><circle cx="-4.90" cy="9.73" r="4.1"/><circle cx="-10.03" cy="5.27" r="4.1"/><circle cx="-11.56" cy="-1.36" r="4.1"/><circle cx="-8.90" cy="-7.62" r="4.1"/><circle cx="-3.07" cy="-11.12" r="4.1"/><circle cx="3.70" cy="-10.53" r="4.1"/><circle cx="8.83" cy="-6.07" r="4.1"/></g><circle cx="5.5" cy="7.8" r="5" fill="#f5b8bc"/><circle cx="-0.5" cy="-10.5" r="4.5" fill="#f6c0c4"/><g fill="#f3a4a9" stroke="#e68d93" stroke-width="0.6"><circle cx="-4.10" cy="-6.00" r="5.7"/><circle cx="4.30" cy="-6.40" r="5.7"/><circle cx="-9.20" cy="1.60" r="5.7"/><circle cx="5.20" cy="1.60" r="5.7"/><circle cx="-2.20" cy="6.20" r="5.7"/><circle cx="0.00" cy="0.00" r="5.7"/></g><g fill="#d8757c"><circle cx="-4.10" cy="-6.00" r="2.3"/><circle cx="4.30" cy="-6.40" r="2.3"/><circle cx="-9.20" cy="1.60" r="2.3"/><circle cx="5.20" cy="1.60" r="2.3"/><circle cx="-2.20" cy="6.20" r="2.3"/><circle cx="0.00" cy="0.00" r="2.3"/></g></g>
<g transform="translate(303.00,336.50)"><g transform="translate(-12.4,-11)"><circle cx="6.7" cy="7.1" r="6.25" fill="#f4d8f4" stroke="#ebc8ee" stroke-width="0.6"/><circle cx="8.5" cy="7.4" r="2.9" fill="#e2b9e6"/><circle cx="18.0" cy="7.3" r="6.25" fill="#f4d8f4" stroke="#ebc8ee" stroke-width="0.6"/><circle cx="16.8" cy="7.6" r="2.9" fill="#e2b9e6"/><circle cx="10.6" cy="14.6" r="6.9" fill="#f4d8f4" stroke="#ebc8ee" stroke-width="0.6"/><circle cx="10.9" cy="14.4" r="3.1" fill="#e2b9e6"/></g></g>
<text x="235.30" y="331.90" font-size="5.8" text-anchor="end" font-style="italic" fill="#1a1a1a">BCL6</text>
<text x="235.30" y="338.80" font-size="5.8" text-anchor="end" font-style="italic" fill="#1a1a1a">NSD1</text>
<text x="289.70" y="331.90" font-size="5.8" text-anchor="end" font-style="italic" fill="#1a1a1a">BCL6</text>
<text x="289.70" y="338.80" font-size="5.8" text-anchor="end" font-style="italic" fill="#1a1a1a">NSD1</text>
<text x="262.00" y="343.40" font-size="5.8" text-anchor="start" fill="#1a1a1a">AML</text>
<text x="81.80" y="358.80" font-size="7.5" text-anchor="middle" fill="#1a1a1a" stroke="#1a1a1a" stroke-width="0.18">N</text>
<text x="132.80" y="358.80" font-size="7.5" text-anchor="middle" fill="#1a1a1a" stroke="#1a1a1a" stroke-width="0.18">N</text>
<text x="254.80" y="358.80" font-size="7.5" text-anchor="middle" fill="#1a1a1a" stroke="#1a1a1a" stroke-width="0.18">t(11;19)</text>
<text x="300.00" y="358.80" font-size="7.5" text-anchor="middle" fill="#1a1a1a" stroke="#1a1a1a" stroke-width="0.18">t(11;19)</text>
<polygon points="31.2,361.8 308.6,361.8 342.8,367.70000000000005 308.6,373.6 31.2,373.6" fill="#ecf2fb" stroke="#93acda" stroke-width="1.6" stroke-linejoin="miter"/>
<polygon points="249.8,361.1 308.6,361.1 343.3,367.70000000000005 308.6,374.3 249.8,374.3" fill="#e07a7e"/>
<text x="0.00" y="0.00" font-size="7.2" text-anchor="start" fill="#1a1a1a" stroke="#1a1a1a" stroke-width="0.18" transform="translate(34.10,370.30) scale(0.96,1.0)">Time after transplant (months)</text>
<text x="343.50" y="370.40" font-size="7.3" text-anchor="start" fill="#1a1a1a" stroke="#1a1a1a" stroke-width="0.18">Deceased</text>
<text x="0.00" y="0.00" font-size="13.5" text-anchor="middle" fill="#151515" transform="translate(34.50,387.20) scale(1.0,1.08)">0</text>
<text x="0.00" y="0.00" font-size="13.5" text-anchor="middle" fill="#151515" transform="translate(65.70,387.20) scale(1.0,1.08)">2</text>
<text x="0.00" y="0.00" font-size="13.5" text-anchor="middle" fill="#151515" transform="translate(102.80,387.20) scale(1.0,1.08)">4</text>
<text x="0.00" y="0.00" font-size="13.5" text-anchor="middle" fill="#151515" transform="translate(133.40,387.20) scale(1.0,1.08)">6</text>
<text x="0.00" y="0.00" font-size="13.5" text-anchor="middle" fill="#151515" transform="translate(167.80,387.20) scale(1.0,1.08)">8</text>
<text x="0.00" y="0.00" font-size="13.5" text-anchor="middle" fill="#151515" transform="translate(199.30,387.20) scale(1.0,1.08)">10</text>
<text x="0.00" y="0.00" font-size="13.5" text-anchor="middle" fill="#151515" transform="translate(234.30,387.20) scale(1.0,1.08)">12</text>
<text x="0.00" y="0.00" font-size="13.5" text-anchor="middle" fill="#151515" transform="translate(296.10,387.20) scale(1.0,1.08)">18</text>
<text x="0.00" y="0.00" font-size="13.5" text-anchor="middle" fill="#151515" transform="translate(327.60,387.20) scale(1.0,1.08)">22</text>
<text x="0.00" y="0.00" font-size="14" text-anchor="start" fill="#1a1a1a" transform="translate(4.20,427.70) scale(0.9,1.0)">D6</text>
<text x="1.60" y="443.50" font-size="5.6" text-anchor="start" fill="#1a1a1a">Karyotype</text>
<g transform="translate(50.00,423.20)"><g transform="translate(-12.4,-11)"><circle cx="6.7" cy="7.1" r="6.25" fill="#d7eef6" stroke="#bddfec" stroke-width="0.8"/><circle cx="8.5" cy="7.4" r="2.9" fill="#b6e0ee"/><circle cx="18.0" cy="7.3" r="6.25" fill="#d7eef6" stroke="#bddfec" stroke-width="0.8"/><circle cx="16.8" cy="7.6" r="2.9" fill="#b6e0ee"/><circle cx="10.6" cy="14.6" r="6.9" fill="#d7eef6" stroke="#bddfec" stroke-width="0.8"/><circle cx="10.9" cy="14.4" r="3.1" fill="#b6e0ee"/></g></g>
<g transform="translate(118.70,423.20)"><g transform="translate(-12.4,-11)"><circle cx="6.7" cy="7.1" r="6.25" fill="#d7eef6" stroke="#bddfec" stroke-width="0.8"/><circle cx="8.5" cy="7.4" r="2.9" fill="#b6e0ee"/><circle cx="18.0" cy="7.3" r="6.25" fill="#d7eef6" stroke="#bddfec" stroke-width="0.8"/><circle cx="16.8" cy="7.6" r="2.9" fill="#b6e0ee"/><circle cx="10.6" cy="14.6" r="6.9" fill="#d7eef6" stroke="#bddfec" stroke-width="0.8"/><circle cx="10.9" cy="14.4" r="3.1" fill="#b6e0ee"/></g></g>
<g transform="translate(566.80,421.60)"><g fill="#f9d9db" opacity="0.55"><circle cx="10.36" cy="0.56" r="4.9"/><circle cx="7.70" cy="6.82" r="4.9"/><circle cx="1.87" cy="10.32" r="4.9"/><circle cx="-4.90" cy="9.73" r="4.9"/><circle cx="-10.03" cy="5.27" r="4.9"/><circle cx="-11.56" cy="-1.36" r="4.9"/><circle cx="-8.90" cy="-7.62" r="4.9"/><circle cx="-3.07" cy="-11.12" r="4.9"/><circle cx="3.70" cy="-10.53" r="4.9"/><circle cx="8.83" cy="-6.07" r="4.9"/></g><g fill="#f7c8cb" opacity="0.75"><circle cx="10.36" cy="0.56" r="4.1"/><circle cx="7.70" cy="6.82" r="4.1"/><circle cx="1.87" cy="10.32" r="4.1"/><circle cx="-4.90" cy="9.73" r="4.1"/><circle cx="-10.03" cy="5.27" r="4.1"/><circle cx="-11.56" cy="-1.36" r="4.1"/><circle cx="-8.90" cy="-7.62" r="4.1"/><circle cx="-3.07" cy="-11.12" r="4.1"/><circle cx="3.70" cy="-10.53" r="4.1"/><circle cx="8.83" cy="-6.07" r="4.1"/></g><circle cx="5.5" cy="7.8" r="5" fill="#f5b8bc"/><circle cx="-0.5" cy="-10.5" r="4.5" fill="#f6c0c4"/><g fill="#f3a4a9" stroke="#e68d93" stroke-width="0.6"><circle cx="-4.10" cy="-6.00" r="5.7"/><circle cx="4.30" cy="-6.40" r="5.7"/><circle cx="-9.20" cy="1.60" r="5.7"/><circle cx="5.20" cy="1.60" r="5.7"/><circle cx="-2.20" cy="6.20" r="5.7"/><circle cx="0.00" cy="0.00" r="5.7"/></g><g fill="#d8757c"><circle cx="-4.10" cy="-6.00" r="2.3"/><circle cx="4.30" cy="-6.40" r="2.3"/><circle cx="-9.20" cy="1.60" r="2.3"/><circle cx="5.20" cy="1.60" r="2.3"/><circle cx="-2.20" cy="6.20" r="2.3"/><circle cx="0.00" cy="0.00" r="2.3"/></g></g>
<g transform="translate(639.40,423.50)"><g transform="translate(-12.4,-11)"><circle cx="6.7" cy="7.1" r="6.25" fill="#f4d8f4" stroke="#ebc8ee" stroke-width="0.6"/><circle cx="8.5" cy="7.4" r="2.9" fill="#e2b9e6"/><circle cx="18.0" cy="7.3" r="6.25" fill="#f4d8f4" stroke="#ebc8ee" stroke-width="0.6"/><circle cx="16.8" cy="7.6" r="2.9" fill="#e2b9e6"/><circle cx="10.6" cy="14.6" r="6.9" fill="#f4d8f4" stroke="#ebc8ee" stroke-width="0.6"/><circle cx="10.9" cy="14.4" r="3.1" fill="#e2b9e6"/></g></g>
<text x="550.60" y="416.70" font-size="5.5" text-anchor="end" font-style="italic" fill="#1a1a1a">MPL</text>
<text x="550.60" y="423.20" font-size="5.5" text-anchor="end" font-style="italic" fill="#1a1a1a">NF1</text>
<text x="550.60" y="429.50" font-size="5.5" text-anchor="end" font-style="italic" fill="#1a1a1a">RUNX1</text>
<text x="626.40" y="416.70" font-size="5.5" text-anchor="end" font-style="italic" fill="#1a1a1a">MPL</text>
<text x="626.40" y="423.20" font-size="5.5" text-anchor="end" font-style="italic" fill="#1a1a1a">NF1</text>
<text x="626.40" y="429.50" font-size="5.5" text-anchor="end" font-style="italic" fill="#1a1a1a">RUNX1</text>
<text x="579.60" y="431.80" font-size="5.8" text-anchor="start" fill="#1a1a1a">AML</text>
<text x="49.60" y="444.20" font-size="7.5" text-anchor="middle" fill="#1a1a1a" stroke="#1a1a1a" stroke-width="0.18">N</text>
<text x="116.00" y="444.20" font-size="7.5" text-anchor="middle" fill="#1a1a1a" stroke="#1a1a1a" stroke-width="0.18">N</text>
<text x="636.60" y="444.20" font-size="7.5" text-anchor="middle" fill="#1a1a1a" stroke="#1a1a1a" stroke-width="0.18">N</text>
<text x="567.00" y="445.00" font-size="5.6" text-anchor="middle" fill="#1a1a1a">20q-/+21,+22</text>
<polygon points="31.2,448.2 630.3,448.2 664.8,454.1 630.3,460.0 31.2,460.0" fill="#ecf2fb" stroke="#93acda" stroke-width="1.6" stroke-linejoin="miter"/>
<text x="0.00" y="0.00" font-size="7.2" text-anchor="start" fill="#1a1a1a" stroke="#1a1a1a" stroke-width="0.18" transform="translate(34.10,456.70) scale(0.96,1.0)">Time after transplant (months)</text>
<text x="0.00" y="0.00" font-size="13.5" text-anchor="middle" fill="#151515" transform="translate(34.50,474.20) scale(1.0,1.08)">0</text>
<text x="0.00" y="0.00" font-size="13.5" text-anchor="middle" fill="#151515" transform="translate(65.70,474.20) scale(1.0,1.08)">2</text>
<text x="0.00" y="0.00" font-size="13.5" text-anchor="middle" fill="#151515" transform="translate(102.80,474.20) scale(1.0,1.08)">4</text>
<text x="0.00" y="0.00" font-size="13.5" text-anchor="middle" fill="#151515" transform="translate(133.40,474.20) scale(1.0,1.08)">6</text>
<text x="0.00" y="0.00" font-size="13.5" text-anchor="middle" fill="#151515" transform="translate(167.80,474.20) scale(1.0,1.08)">8</text>
<text x="0.00" y="0.00" font-size="13.5" text-anchor="middle" fill="#151515" transform="translate(199.30,474.20) scale(1.0,1.08)">10</text>
<text x="0.00" y="0.00" font-size="13.5" text-anchor="middle" fill="#151515" transform="translate(234.30,474.20) scale(1.0,1.08)">12</text>
<text x="0.00" y="0.00" font-size="13.5" text-anchor="middle" fill="#151515" transform="translate(265.70,474.20) scale(1.0,1.08)">18</text>
<text x="0.00" y="0.00" font-size="13.5" text-anchor="middle" fill="#151515" transform="translate(301.00,474.20) scale(1.0,1.08)">24</text>
<text x="0.00" y="0.00" font-size="13.5" text-anchor="middle" fill="#151515" transform="translate(336.00,474.20) scale(1.0,1.08)">30</text>
<text x="0.00" y="0.00" font-size="13.5" text-anchor="middle" fill="#151515" transform="translate(367.50,474.20) scale(1.0,1.08)">36</text>
<text x="0.00" y="0.00" font-size="13.5" text-anchor="middle" fill="#151515" transform="translate(399.70,474.20) scale(1.0,1.08)">42</text>
<text x="0.00" y="0.00" font-size="13.5" text-anchor="middle" fill="#151515" transform="translate(431.20,474.20) scale(1.0,1.08)">48</text>
<text x="0.00" y="0.00" font-size="13.5" text-anchor="middle" fill="#151515" transform="translate(463.20,474.20) scale(1.0,1.08)">54</text>
<text x="0.00" y="0.00" font-size="13.5" text-anchor="middle" fill="#151515" transform="translate(497.80,474.20) scale(1.0,1.08)">60</text>
<text x="0.00" y="0.00" font-size="13.5" text-anchor="middle" fill="#151515" transform="translate(529.80,474.20) scale(1.0,1.08)">66</text>
<text x="0.00" y="0.00" font-size="13.5" text-anchor="middle" fill="#151515" transform="translate(548.90,474.20) scale(1.0,1.08)">---</text>
<text x="0.00" y="0.00" font-size="13.5" text-anchor="middle" fill="#151515" transform="translate(568.50,474.20) scale(1.0,1.08)">89</text>
<text x="0.00" y="0.00" font-size="13.5" text-anchor="middle" fill="#151515" transform="translate(649.60,474.20) scale(1.0,1.08)">91</text>
<g transform="translate(486.70,283.60)"><g transform="translate(-12.4,-11)"><circle cx="6.7" cy="7.1" r="6.25" fill="#d7eef6" stroke="#bddfec" stroke-width="0.8"/><circle cx="8.5" cy="7.4" r="2.9" fill="#b6e0ee"/><circle cx="18.0" cy="7.3" r="6.25" fill="#d7eef6" stroke="#bddfec" stroke-width="0.8"/><circle cx="16.8" cy="7.6" r="2.9" fill="#b6e0ee"/><circle cx="10.6" cy="14.6" r="6.9" fill="#d7eef6" stroke="#bddfec" stroke-width="0.8"/><circle cx="10.9" cy="14.4" r="3.1" fill="#b6e0ee"/></g></g>
<text x="502.80" y="282.40" font-size="7.6" text-anchor="start" fill="#1a1a1a" stroke="#1a1a1a" stroke-width="0.18">No evidence of cancer</text>
<text x="502.80" y="290.40" font-size="7.6" text-anchor="start" fill="#1a1a1a" stroke="#1a1a1a" stroke-width="0.18">by pathologic findings</text>
<g transform="translate(486.00,316.00)"><g transform="translate(-12.4,-11)"><circle cx="6.7" cy="7.1" r="6.25" fill="#f4d8f4" stroke="#ebc8ee" stroke-width="0.6"/><circle cx="8.5" cy="7.4" r="2.9" fill="#e2b9e6"/><circle cx="18.0" cy="7.3" r="6.25" fill="#f4d8f4" stroke="#ebc8ee" stroke-width="0.6"/><circle cx="16.8" cy="7.6" r="2.9" fill="#e2b9e6"/><circle cx="10.6" cy="14.6" r="6.9" fill="#f4d8f4" stroke="#ebc8ee" stroke-width="0.6"/><circle cx="10.9" cy="14.4" r="3.1" fill="#e2b9e6"/></g></g>
<text x="502.20" y="305.80" font-size="7.6" text-anchor="start" fill="#1a1a1a" stroke="#1a1a1a" stroke-width="0.18">No evidence of cancer</text>
<text x="502.20" y="314.30" font-size="7.6" text-anchor="start" fill="#1a1a1a" stroke="#1a1a1a" stroke-width="0.18">by pathologic findings,</text>
<text x="502.20" y="322.80" font-size="7.6" text-anchor="start" fill="#1a1a1a" stroke="#1a1a1a" stroke-width="0.18">but with dysplastic cells,</text>
<text x="502.20" y="331.30" font-size="7.6" text-anchor="start" fill="#1a1a1a" stroke="#1a1a1a" stroke-width="0.18">and/or mutations</text>
<g transform="translate(487.90,353.60) scale(1.03)"><g fill="#f9d9db" opacity="0.55"><circle cx="10.36" cy="0.56" r="4.9"/><circle cx="7.70" cy="6.82" r="4.9"/><circle cx="1.87" cy="10.32" r="4.9"/><circle cx="-4.90" cy="9.73" r="4.9"/><circle cx="-10.03" cy="5.27" r="4.9"/><circle cx="-11.56" cy="-1.36" r="4.9"/><circle cx="-8.90" cy="-7.62" r="4.9"/><circle cx="-3.07" cy="-11.12" r="4.9"/><circle cx="3.70" cy="-10.53" r="4.9"/><circle cx="8.83" cy="-6.07" r="4.9"/></g><g fill="#f7c8cb" opacity="0.75"><circle cx="10.36" cy="0.56" r="4.1"/><circle cx="7.70" cy="6.82" r="4.1"/><circle cx="1.87" cy="10.32" r="4.1"/><circle cx="-4.90" cy="9.73" r="4.1"/><circle cx="-10.03" cy="5.27" r="4.1"/><circle cx="-11.56" cy="-1.36" r="4.1"/><circle cx="-8.90" cy="-7.62" r="4.1"/><circle cx="-3.07" cy="-11.12" r="4.1"/><circle cx="3.70" cy="-10.53" r="4.1"/><circle cx="8.83" cy="-6.07" r="4.1"/></g><circle cx="5.5" cy="7.8" r="5" fill="#f5b8bc"/><circle cx="-0.5" cy="-10.5" r="4.5" fill="#f6c0c4"/><g fill="#f3a4a9" stroke="#e68d93" stroke-width="0.6"><circle cx="-4.10" cy="-6.00" r="5.7"/><circle cx="4.30" cy="-6.40" r="5.7"/><circle cx="-9.20" cy="1.60" r="5.7"/><circle cx="5.20" cy="1.60" r="5.7"/><circle cx="-2.20" cy="6.20" r="5.7"/><circle cx="0.00" cy="0.00" r="5.7"/></g><g fill="#d8757c"><circle cx="-4.10" cy="-6.00" r="2.3"/><circle cx="4.30" cy="-6.40" r="2.3"/><circle cx="-9.20" cy="1.60" r="2.3"/><circle cx="5.20" cy="1.60" r="2.3"/><circle cx="-2.20" cy="6.20" r="2.3"/><circle cx="0.00" cy="0.00" r="2.3"/></g></g>
<text x="502.80" y="352.00" font-size="7.6" text-anchor="start" fill="#1a1a1a" stroke="#1a1a1a" stroke-width="0.18">Donor cell leukemia by</text>
<text x="502.80" y="360.40" font-size="7.6" text-anchor="start" fill="#1a1a1a" stroke="#1a1a1a" stroke-width="0.18">pathologic findings</text>
<text x="4.00" y="503.40" font-size="17.5" text-anchor="start" fill="#1a1a1a">B</text>
<text x="0.00" y="0.00" font-size="14" text-anchor="start" fill="#1a1a1a" transform="translate(6.00,529.00) scale(0.9,1.0)">C1</text>
<text x="3.80" y="544.50" font-size="5.6" text-anchor="start" fill="#1a1a1a">Karyotype</text>
<g transform="translate(65.70,527.20)"><g transform="translate(-12.4,-11)"><circle cx="6.7" cy="7.1" r="6.25" fill="#d7eef6" stroke="#bddfec" stroke-width="0.8"/><circle cx="8.5" cy="7.4" r="2.9" fill="#b6e0ee"/><circle cx="18.0" cy="7.3" r="6.25" fill="#d7eef6" stroke="#bddfec" stroke-width="0.8"/><circle cx="16.8" cy="7.6" r="2.9" fill="#b6e0ee"/><circle cx="10.6" cy="14.6" r="6.9" fill="#d7eef6" stroke="#bddfec" stroke-width="0.8"/><circle cx="10.9" cy="14.4" r="3.1" fill="#b6e0ee"/></g></g>
<g transform="translate(144.00,527.20)"><g transform="translate(-12.4,-11)"><circle cx="6.7" cy="7.1" r="6.25" fill="#d7eef6" stroke="#bddfec" stroke-width="0.8"/><circle cx="8.5" cy="7.4" r="2.9" fill="#b6e0ee"/><circle cx="18.0" cy="7.3" r="6.25" fill="#d7eef6" stroke="#bddfec" stroke-width="0.8"/><circle cx="16.8" cy="7.6" r="2.9" fill="#b6e0ee"/><circle cx="10.6" cy="14.6" r="6.9" fill="#d7eef6" stroke="#bddfec" stroke-width="0.8"/><circle cx="10.9" cy="14.4" r="3.1" fill="#b6e0ee"/></g></g>
<g transform="translate(243.40,527.30)"><g transform="translate(-12.4,-11)"><circle cx="6.7" cy="7.1" r="6.25" fill="#f4d8f4" stroke="#ebc8ee" stroke-width="0.6"/><circle cx="8.5" cy="7.4" r="2.9" fill="#e2b9e6"/><circle cx="18.0" cy="7.3" r="6.25" fill="#f4d8f4" stroke="#ebc8ee" stroke-width="0.6"/><circle cx="16.8" cy="7.6" r="2.9" fill="#e2b9e6"/><circle cx="10.6" cy="14.6" r="6.9" fill="#f4d8f4" stroke="#ebc8ee" stroke-width="0.6"/><circle cx="10.9" cy="14.4" r="3.1" fill="#e2b9e6"/></g></g>
<text x="65.60" y="546.30" font-size="7.5" text-anchor="middle" fill="#1a1a1a" stroke="#1a1a1a" stroke-width="0.18">N</text>
<text x="141.60" y="546.30" font-size="7.5" text-anchor="middle" fill="#1a1a1a" stroke="#1a1a1a" stroke-width="0.18">N</text>
<text x="245.20" y="547.00" font-size="7.5" text-anchor="middle" fill="#1a1a1a" stroke="#1a1a1a" stroke-width="0.18">20q-</text>
<polygon points="34.1,548.8 261.0,548.8 295.6,554.95 261.0,561.1 34.1,561.1" fill="#edf3fc" stroke="#93acda" stroke-width="1.4"/>
<rect x="34.1" y="548.8" width="208.9" height="12.300000000000068" fill="#f0b042"/>
<polygon points="34.1,548.8 261.0,548.8 295.6,554.95 261.0,561.1 34.1,561.1" fill="none" stroke="#a3b3d8" stroke-width="1.2"/>
<text x="0.00" y="0.00" font-size="7.4" text-anchor="start" font-weight="bold" fill="#1a1a1a" transform="translate(36.10,557.55) scale(0.87,1.0)">Time after transplant (months)</text>
<text x="297.80" y="558.20" font-size="7.6" text-anchor="start" fill="#1a1a1a" stroke="#1a1a1a" stroke-width="0.18">Non-cancer related death</text>
<text x="0.00" y="0.00" font-size="13.5" text-anchor="middle" fill="#151515" transform="translate(38.20,575.70) scale(1.0,1.08)">0</text>
<text x="0.00" y="0.00" font-size="13.5" text-anchor="middle" fill="#151515" transform="translate(68.80,575.70) scale(1.0,1.08)">2</text>
<text x="0.00" y="0.00" font-size="13.5" text-anchor="middle" fill="#151515" transform="translate(106.60,575.70) scale(1.0,1.08)">4</text>
<text x="0.00" y="0.00" font-size="13.5" text-anchor="middle" fill="#151515" transform="translate(136.60,575.70) scale(1.0,1.08)">6</text>
<text x="0.00" y="0.00" font-size="13.5" text-anchor="middle" fill="#151515" transform="translate(171.20,575.70) scale(1.0,1.08)">8</text>
<text x="0.00" y="0.00" font-size="13.5" text-anchor="middle" fill="#151515" transform="translate(202.90,575.70) scale(1.0,1.08)">10</text>
<text x="0.00" y="0.00" font-size="13.5" text-anchor="middle" fill="#151515" transform="translate(237.60,575.70) scale(1.0,1.08)">12</text>
<text x="0.00" y="0.00" font-size="13.5" text-anchor="middle" fill="#151515" transform="translate(268.60,575.70) scale(1.0,1.08)">18</text>
<text x="0.00" y="0.00" font-size="14" text-anchor="start" fill="#1a1a1a" transform="translate(6.00,611.30) scale(0.9,1.0)">C2</text>
<text x="3.80" y="624.20" font-size="5.6" text-anchor="start" fill="#1a1a1a">Karyotype</text>
<g transform="translate(69.00,610.20)"><g transform="translate(-12.4,-11)"><circle cx="6.7" cy="7.1" r="6.25" fill="#d7eef6" stroke="#bddfec" stroke-width="0.8"/><circle cx="8.5" cy="7.4" r="2.9" fill="#b6e0ee"/><circle cx="18.0" cy="7.3" r="6.25" fill="#d7eef6" stroke="#bddfec" stroke-width="0.8"/><circle cx="16.8" cy="7.6" r="2.9" fill="#b6e0ee"/><circle cx="10.6" cy="14.6" r="6.9" fill="#d7eef6" stroke="#bddfec" stroke-width="0.8"/><circle cx="10.9" cy="14.4" r="3.1" fill="#b6e0ee"/></g></g>
<g transform="translate(139.90,610.20)"><g transform="translate(-12.4,-11)"><circle cx="6.7" cy="7.1" r="6.25" fill="#d7eef6" stroke="#bddfec" stroke-width="0.8"/><circle cx="8.5" cy="7.4" r="2.9" fill="#b6e0ee"/><circle cx="18.0" cy="7.3" r="6.25" fill="#d7eef6" stroke="#bddfec" stroke-width="0.8"/><circle cx="16.8" cy="7.6" r="2.9" fill="#b6e0ee"/><circle cx="10.6" cy="14.6" r="6.9" fill="#d7eef6" stroke="#bddfec" stroke-width="0.8"/><circle cx="10.9" cy="14.4" r="3.1" fill="#b6e0ee"/></g></g>
<g transform="translate(231.20,610.20)"><g transform="translate(-12.4,-11)"><circle cx="6.7" cy="7.1" r="6.25" fill="#d7eef6" stroke="#bddfec" stroke-width="0.8"/><circle cx="8.5" cy="7.4" r="2.9" fill="#b6e0ee"/><circle cx="18.0" cy="7.3" r="6.25" fill="#d7eef6" stroke="#bddfec" stroke-width="0.8"/><circle cx="16.8" cy="7.6" r="2.9" fill="#b6e0ee"/><circle cx="10.6" cy="14.6" r="6.9" fill="#d7eef6" stroke="#bddfec" stroke-width="0.8"/><circle cx="10.9" cy="14.4" r="3.1" fill="#b6e0ee"/></g></g>
<g transform="translate(256.30,610.20)"><g transform="translate(-12.4,-11)"><circle cx="6.7" cy="7.1" r="6.25" fill="#d7eef6" stroke="#bddfec" stroke-width="0.8"/><circle cx="8.5" cy="7.4" r="2.9" fill="#b6e0ee"/><circle cx="18.0" cy="7.3" r="6.25" fill="#d7eef6" stroke="#bddfec" stroke-width="0.8"/><circle cx="16.8" cy="7.6" r="2.9" fill="#b6e0ee"/><circle cx="10.6" cy="14.6" r="6.9" fill="#d7eef6" stroke="#bddfec" stroke-width="0.8"/><circle cx="10.9" cy="14.4" r="3.1" fill="#b6e0ee"/></g></g>
<g transform="translate(299.70,610.20)"><g transform="translate(-12.4,-11)"><circle cx="6.7" cy="7.1" r="6.25" fill="#d7eef6" stroke="#bddfec" stroke-width="0.8"/><circle cx="8.5" cy="7.4" r="2.9" fill="#b6e0ee"/><circle cx="18.0" cy="7.3" r="6.25" fill="#d7eef6" stroke="#bddfec" stroke-width="0.8"/><circle cx="16.8" cy="7.6" r="2.9" fill="#b6e0ee"/><circle cx="10.6" cy="14.6" r="6.9" fill="#d7eef6" stroke="#bddfec" stroke-width="0.8"/><circle cx="10.9" cy="14.4" r="3.1" fill="#b6e0ee"/></g></g>
<g transform="translate(325.10,610.20)"><g transform="translate(-12.4,-11)"><circle cx="6.7" cy="7.1" r="6.25" fill="#d7eef6" stroke="#bddfec" stroke-width="0.8"/><circle cx="8.5" cy="7.4" r="2.9" fill="#b6e0ee"/><circle cx="18.0" cy="7.3" r="6.25" fill="#d7eef6" stroke="#bddfec" stroke-width="0.8"/><circle cx="16.8" cy="7.6" r="2.9" fill="#b6e0ee"/><circle cx="10.6" cy="14.6" r="6.9" fill="#d7eef6" stroke="#bddfec" stroke-width="0.8"/><circle cx="10.9" cy="14.4" r="3.1" fill="#b6e0ee"/></g></g>
<g transform="translate(370.00,610.20)"><g transform="translate(-12.4,-11)"><circle cx="6.7" cy="7.1" r="6.25" fill="#d7eef6" stroke="#bddfec" stroke-width="0.8"/><circle cx="8.5" cy="7.4" r="2.9" fill="#b6e0ee"/><circle cx="18.0" cy="7.3" r="6.25" fill="#d7eef6" stroke="#bddfec" stroke-width="0.8"/><circle cx="16.8" cy="7.6" r="2.9" fill="#b6e0ee"/><circle cx="10.6" cy="14.6" r="6.9" fill="#d7eef6" stroke="#bddfec" stroke-width="0.8"/><circle cx="10.9" cy="14.4" r="3.1" fill="#b6e0ee"/></g></g>
<g transform="translate(435.80,610.20)"><g transform="translate(-12.4,-11)"><circle cx="6.7" cy="7.1" r="6.25" fill="#d7eef6" stroke="#bddfec" stroke-width="0.8"/><circle cx="8.5" cy="7.4" r="2.9" fill="#b6e0ee"/><circle cx="18.0" cy="7.3" r="6.25" fill="#d7eef6" stroke="#bddfec" stroke-width="0.8"/><circle cx="16.8" cy="7.6" r="2.9" fill="#b6e0ee"/><circle cx="10.6" cy="14.6" r="6.9" fill="#d7eef6" stroke="#bddfec" stroke-width="0.8"/><circle cx="10.9" cy="14.4" r="3.1" fill="#b6e0ee"/></g></g>
<g transform="translate(537.00,610.20)"><g transform="translate(-12.4,-11)"><circle cx="6.7" cy="7.1" r="6.25" fill="#d7eef6" stroke="#bddfec" stroke-width="0.8"/><circle cx="8.5" cy="7.4" r="2.9" fill="#b6e0ee"/><circle cx="18.0" cy="7.3" r="6.25" fill="#d7eef6" stroke="#bddfec" stroke-width="0.8"/><circle cx="16.8" cy="7.6" r="2.9" fill="#b6e0ee"/><circle cx="10.6" cy="14.6" r="6.9" fill="#d7eef6" stroke="#bddfec" stroke-width="0.8"/><circle cx="10.9" cy="14.4" r="3.1" fill="#b6e0ee"/></g></g>
<text x="67.70" y="629.70" font-size="7.5" text-anchor="middle" fill="#1a1a1a" stroke="#1a1a1a" stroke-width="0.18">N</text>
<text x="138.10" y="629.70" font-size="7.5" text-anchor="middle" fill="#1a1a1a" stroke="#1a1a1a" stroke-width="0.18">N</text>
<text x="230.50" y="629.70" font-size="7.5" text-anchor="middle" fill="#1a1a1a" stroke="#1a1a1a" stroke-width="0.18">N</text>
<text x="254.40" y="629.70" font-size="7.5" text-anchor="middle" fill="#1a1a1a" stroke="#1a1a1a" stroke-width="0.18">20q-</text>
<text x="299.90" y="629.70" font-size="7.5" text-anchor="middle" fill="#1a1a1a" stroke="#1a1a1a" stroke-width="0.18">20q-</text>
<text x="325.70" y="629.70" font-size="7.5" text-anchor="middle" fill="#1a1a1a" stroke="#1a1a1a" stroke-width="0.18">20q-</text>
<text x="369.40" y="629.70" font-size="7.5" text-anchor="middle" fill="#1a1a1a" stroke="#1a1a1a" stroke-width="0.18">20q-</text>
<text x="436.50" y="629.70" font-size="7.5" text-anchor="middle" fill="#1a1a1a" stroke="#1a1a1a" stroke-width="0.18">20q-</text>
<text x="537.30" y="629.70" font-size="7.5" text-anchor="middle" fill="#1a1a1a" stroke="#1a1a1a" stroke-width="0.18">20q-</text>
<polygon points="34.1,631.0 584.4,631.0 619.0,637.1 584.4,643.2 34.1,643.2" fill="#edf3fc" stroke="#93acda" stroke-width="1.4"/>
<rect x="34.1" y="631.0" width="221.0" height="12.200000000000045" fill="#f0b042"/>
<polygon points="34.1,631.0 584.4,631.0 619.0,637.1 584.4,643.2 34.1,643.2" fill="none" stroke="#a3b3d8" stroke-width="1.2"/>
<text x="0.00" y="0.00" font-size="7.4" text-anchor="start" font-weight="bold" fill="#1a1a1a" transform="translate(36.10,639.70) scale(0.87,1.0)">Time after transplant (months)</text>
<text x="625.00" y="631.60" font-size="7.5" text-anchor="start" fill="#1a1a1a" stroke="#1a1a1a" stroke-width="0.18">No</text>
<text x="623.00" y="640.00" font-size="7.5" text-anchor="start" fill="#1a1a1a" stroke="#1a1a1a" stroke-width="0.18">leukemia</text>
<text x="623.00" y="648.20" font-size="7.5" text-anchor="start" fill="#1a1a1a" stroke="#1a1a1a" stroke-width="0.18">clinically</text>
<text x="0.00" y="0.00" font-size="13.5" text-anchor="middle" fill="#151515" transform="translate(37.40,657.00) scale(1.0,1.08)">0</text>
<text x="0.00" y="0.00" font-size="13.5" text-anchor="middle" fill="#151515" transform="translate(65.70,657.00) scale(1.0,1.08)">2</text>
<text x="0.00" y="0.00" font-size="13.5" text-anchor="middle" fill="#151515" transform="translate(102.80,657.00) scale(1.0,1.08)">4</text>
<text x="0.00" y="0.00" font-size="13.5" text-anchor="middle" fill="#151515" transform="translate(133.40,657.00) scale(1.0,1.08)">6</text>
<text x="0.00" y="0.00" font-size="13.5" text-anchor="middle" fill="#151515" transform="translate(167.50,657.00) scale(1.0,1.08)">8</text>
<text x="0.00" y="0.00" font-size="13.5" text-anchor="middle" fill="#151515" transform="translate(199.30,657.00) scale(1.0,1.08)">10</text>
<text x="0.00" y="0.00" font-size="13.5" text-anchor="middle" fill="#151515" transform="translate(234.30,657.00) scale(1.0,1.08)">12</text>
<text x="0.00" y="0.00" font-size="13.5" text-anchor="middle" fill="#151515" transform="translate(265.70,657.00) scale(1.0,1.08)">18</text>
<text x="0.00" y="0.00" font-size="13.5" text-anchor="middle" fill="#151515" transform="translate(301.00,657.00) scale(1.0,1.08)">24</text>
<text x="0.00" y="0.00" font-size="13.5" text-anchor="middle" fill="#151515" transform="translate(336.00,657.00) scale(1.0,1.08)">30</text>
<text x="0.00" y="0.00" font-size="13.5" text-anchor="middle" fill="#151515" transform="translate(367.50,657.00) scale(1.0,1.08)">36</text>
<text x="0.00" y="0.00" font-size="13.5" text-anchor="middle" fill="#151515" transform="translate(399.70,657.00) scale(1.0,1.08)">42</text>
<text x="0.00" y="0.00" font-size="13.5" text-anchor="middle" fill="#151515" transform="translate(430.90,657.00) scale(1.0,1.08)">48</text>
<text x="0.00" y="0.00" font-size="13.5" text-anchor="middle" fill="#151515" transform="translate(463.20,657.00) scale(1.0,1.08)">54</text>
<text x="0.00" y="0.00" font-size="13.5" text-anchor="middle" fill="#151515" transform="translate(514.90,657.00) scale(1.0,1.08)">60</text>
<text x="0.00" y="0.00" font-size="13.5" text-anchor="middle" fill="#151515" transform="translate(551.50,657.00) scale(1.0,1.08)">---</text>
<text x="0.00" y="0.00" font-size="13.5" text-anchor="middle" fill="#151515" transform="translate(604.70,657.00) scale(1.0,1.08)">170</text>
<text x="0.00" y="0.00" font-size="14" text-anchor="start" fill="#1a1a1a" transform="translate(6.00,707.70) scale(0.9,1.0)">C3-1</text>
<text x="3.80" y="720.00" font-size="5.6" text-anchor="start" fill="#1a1a1a">Karyotype</text>
<g transform="translate(60.90,704.80)"><g transform="translate(-12.4,-11)"><circle cx="6.7" cy="7.1" r="6.25" fill="#f4d8f4" stroke="#ebc8ee" stroke-width="0.6"/><circle cx="8.5" cy="7.4" r="2.9" fill="#e2b9e6"/><circle cx="18.0" cy="7.3" r="6.25" fill="#f4d8f4" stroke="#ebc8ee" stroke-width="0.6"/><circle cx="16.8" cy="7.6" r="2.9" fill="#e2b9e6"/><circle cx="10.6" cy="14.6" r="6.9" fill="#f4d8f4" stroke="#ebc8ee" stroke-width="0.6"/><circle cx="10.9" cy="14.4" r="3.1" fill="#e2b9e6"/></g></g>
<g transform="translate(152.80,704.50)"><g transform="translate(-12.4,-11)"><circle cx="6.7" cy="7.1" r="6.25" fill="#d7eef6" stroke="#bddfec" stroke-width="0.8"/><circle cx="8.5" cy="7.4" r="2.9" fill="#b6e0ee"/><circle cx="18.0" cy="7.3" r="6.25" fill="#d7eef6" stroke="#bddfec" stroke-width="0.8"/><circle cx="16.8" cy="7.6" r="2.9" fill="#b6e0ee"/><circle cx="10.6" cy="14.6" r="6.9" fill="#d7eef6" stroke="#bddfec" stroke-width="0.8"/><circle cx="10.9" cy="14.4" r="3.1" fill="#b6e0ee"/></g></g>
<g transform="translate(200.70,704.40)"><g transform="translate(-12.4,-11)"><circle cx="6.7" cy="7.1" r="6.25" fill="#d7eef6" stroke="#bddfec" stroke-width="0.8"/><circle cx="8.5" cy="7.4" r="2.9" fill="#b6e0ee"/><circle cx="18.0" cy="7.3" r="6.25" fill="#d7eef6" stroke="#bddfec" stroke-width="0.8"/><circle cx="16.8" cy="7.6" r="2.9" fill="#b6e0ee"/><circle cx="10.6" cy="14.6" r="6.9" fill="#d7eef6" stroke="#bddfec" stroke-width="0.8"/><circle cx="10.9" cy="14.4" r="3.1" fill="#b6e0ee"/></g></g>
<g transform="translate(280.00,702.00)"><g fill="#f9d9db" opacity="0.55"><circle cx="10.36" cy="0.56" r="4.9"/><circle cx="7.70" cy="6.82" r="4.9"/><circle cx="1.87" cy="10.32" r="4.9"/><circle cx="-4.90" cy="9.73" r="4.9"/><circle cx="-10.03" cy="5.27" r="4.9"/><circle cx="-11.56" cy="-1.36" r="4.9"/><circle cx="-8.90" cy="-7.62" r="4.9"/><circle cx="-3.07" cy="-11.12" r="4.9"/><circle cx="3.70" cy="-10.53" r="4.9"/><circle cx="8.83" cy="-6.07" r="4.9"/></g><g fill="#f7c8cb" opacity="0.75"><circle cx="10.36" cy="0.56" r="4.1"/><circle cx="7.70" cy="6.82" r="4.1"/><circle cx="1.87" cy="10.32" r="4.1"/><circle cx="-4.90" cy="9.73" r="4.1"/><circle cx="-10.03" cy="5.27" r="4.1"/><circle cx="-11.56" cy="-1.36" r="4.1"/><circle cx="-8.90" cy="-7.62" r="4.1"/><circle cx="-3.07" cy="-11.12" r="4.1"/><circle cx="3.70" cy="-10.53" r="4.1"/><circle cx="8.83" cy="-6.07" r="4.1"/></g><circle cx="5.5" cy="7.8" r="5" fill="#f5b8bc"/><circle cx="-0.5" cy="-10.5" r="4.5" fill="#f6c0c4"/><g fill="#f3a4a9" stroke="#e68d93" stroke-width="0.6"><circle cx="-4.10" cy="-6.00" r="5.7"/><circle cx="4.30" cy="-6.40" r="5.7"/><circle cx="-9.20" cy="1.60" r="5.7"/><circle cx="5.20" cy="1.60" r="5.7"/><circle cx="-2.20" cy="6.20" r="5.7"/><circle cx="0.00" cy="0.00" r="5.7"/></g><g fill="#d8757c"><circle cx="-4.10" cy="-6.00" r="2.3"/><circle cx="4.30" cy="-6.40" r="2.3"/><circle cx="-9.20" cy="1.60" r="2.3"/><circle cx="5.20" cy="1.60" r="2.3"/><circle cx="-2.20" cy="6.20" r="2.3"/><circle cx="0.00" cy="0.00" r="2.3"/></g></g>
<g transform="translate(329.80,704.40)"><g transform="translate(-12.4,-11)"><circle cx="6.7" cy="7.1" r="6.25" fill="#f4d8f4" stroke="#ebc8ee" stroke-width="0.6"/><circle cx="8.5" cy="7.4" r="2.9" fill="#e2b9e6"/><circle cx="18.0" cy="7.3" r="6.25" fill="#f4d8f4" stroke="#ebc8ee" stroke-width="0.6"/><circle cx="16.8" cy="7.6" r="2.9" fill="#e2b9e6"/><circle cx="10.6" cy="14.6" r="6.9" fill="#f4d8f4" stroke="#ebc8ee" stroke-width="0.6"/><circle cx="10.9" cy="14.4" r="3.1" fill="#e2b9e6"/></g></g>
<g transform="translate(356.40,704.40)"><g transform="translate(-12.4,-11)"><circle cx="6.7" cy="7.1" r="6.25" fill="#f4d8f4" stroke="#ebc8ee" stroke-width="0.6"/><circle cx="8.5" cy="7.4" r="2.9" fill="#e2b9e6"/><circle cx="18.0" cy="7.3" r="6.25" fill="#f4d8f4" stroke="#ebc8ee" stroke-width="0.6"/><circle cx="16.8" cy="7.6" r="2.9" fill="#e2b9e6"/><circle cx="10.6" cy="14.6" r="6.9" fill="#f4d8f4" stroke="#ebc8ee" stroke-width="0.6"/><circle cx="10.9" cy="14.4" r="3.1" fill="#e2b9e6"/></g></g>
<text x="295.00" y="692.50" font-size="5.5" text-anchor="start" fill="#1a1a1a">Relapse/</text>
<text x="295.00" y="698.80" font-size="5.5" text-anchor="start" fill="#1a1a1a">therapy-</text>
<text x="295.00" y="705.10" font-size="5.5" text-anchor="start" fill="#1a1a1a">related</text>
<text x="295.00" y="711.40" font-size="5.5" text-anchor="start" fill="#1a1a1a">MDS</text>
<text x="60.20" y="723.60" font-size="7.5" text-anchor="middle" fill="#1a1a1a" stroke="#1a1a1a" stroke-width="0.18">20q-</text>
<text x="153.00" y="723.60" font-size="7.5" text-anchor="middle" fill="#1a1a1a" stroke="#1a1a1a" stroke-width="0.18">20q-</text>
<text x="330.50" y="723.60" font-size="7.5" text-anchor="middle" fill="#1a1a1a" stroke="#1a1a1a" stroke-width="0.18">20q-</text>
<text x="356.40" y="723.60" font-size="7.5" text-anchor="middle" fill="#1a1a1a" stroke="#1a1a1a" stroke-width="0.18">20q-</text>
<text x="201.90" y="723.60" font-size="7.8" text-anchor="middle" fill="#1a1a1a" stroke="#1a1a1a" stroke-width="0.18">Abnormal*</text>
<text x="284.00" y="723.60" font-size="7.8" text-anchor="middle" fill="#1a1a1a" stroke="#1a1a1a" stroke-width="0.18">Abnormal**</text>
<polygon points="34.1,726.4 353,726.4 386.6,732.5 353,738.6 34.1,738.6" fill="#edf3fc" stroke="#93acda" stroke-width="1.4"/>
<rect x="34.1" y="726.4" width="26.6" height="12.200000000000045" fill="#f0b042"/>
<polygon points="34.1,726.4 353,726.4 386.6,732.5 353,738.6 34.1,738.6" fill="none" stroke="#a3b3d8" stroke-width="1.2"/>
<text x="0.00" y="0.00" font-size="7.4" text-anchor="start" font-weight="bold" fill="#1a1a1a" transform="translate(36.10,735.10) scale(0.87,1.0)">Time after the 1st transplant (months)</text>
<text x="0.00" y="0.00" font-size="13.5" text-anchor="middle" fill="#151515" transform="translate(37.40,753.40) scale(1.0,1.08)">0</text>
<text x="0.00" y="0.00" font-size="13.5" text-anchor="middle" fill="#151515" transform="translate(65.70,753.40) scale(1.0,1.08)">2</text>
<text x="0.00" y="0.00" font-size="13.5" text-anchor="middle" fill="#151515" transform="translate(102.80,753.40) scale(1.0,1.08)">4</text>
<text x="0.00" y="0.00" font-size="13.5" text-anchor="middle" fill="#151515" transform="translate(136.60,753.40) scale(1.0,1.08)">6</text>
<text x="0.00" y="0.00" font-size="13.5" text-anchor="middle" fill="#151515" transform="translate(167.90,753.40) scale(1.0,1.08)">8</text>
<text x="0.00" y="0.00" font-size="13.5" text-anchor="middle" fill="#151515" transform="translate(199.50,753.40) scale(1.0,1.08)">10</text>
<text x="0.00" y="0.00" font-size="13.5" text-anchor="middle" fill="#151515" transform="translate(234.50,753.40) scale(1.0,1.08)">12</text>
<text x="0.00" y="0.00" font-size="13.5" text-anchor="middle" fill="#151515" transform="translate(269.70,753.40) scale(1.0,1.08)">18</text>
<text x="0.00" y="0.00" font-size="13.5" text-anchor="middle" fill="#151515" transform="translate(333.50,753.40) scale(1.0,1.08)">21</text>
<text x="0.00" y="0.00" font-size="14" text-anchor="start" fill="#1a1a1a" transform="translate(6.00,784.90) scale(0.9,1.0)">C3-2</text>
<text x="3.80" y="799.00" font-size="5.6" text-anchor="start" fill="#1a1a1a">Karyotype</text>
<g transform="translate(63.80,786.50)"><g transform="translate(-12.4,-11)"><circle cx="6.7" cy="7.1" r="6.25" fill="#d7eef6" stroke="#bddfec" stroke-width="0.8"/><circle cx="8.5" cy="7.4" r="2.9" fill="#b6e0ee"/><circle cx="18.0" cy="7.3" r="6.25" fill="#d7eef6" stroke="#bddfec" stroke-width="0.8"/><circle cx="16.8" cy="7.6" r="2.9" fill="#b6e0ee"/><circle cx="10.6" cy="14.6" r="6.9" fill="#d7eef6" stroke="#bddfec" stroke-width="0.8"/><circle cx="10.9" cy="14.4" r="3.1" fill="#b6e0ee"/></g></g>
<g transform="translate(131.00,786.50)"><g transform="translate(-12.4,-11)"><circle cx="6.7" cy="7.1" r="6.25" fill="#d7eef6" stroke="#bddfec" stroke-width="0.8"/><circle cx="8.5" cy="7.4" r="2.9" fill="#b6e0ee"/><circle cx="18.0" cy="7.3" r="6.25" fill="#d7eef6" stroke="#bddfec" stroke-width="0.8"/><circle cx="16.8" cy="7.6" r="2.9" fill="#b6e0ee"/><circle cx="10.6" cy="14.6" r="6.9" fill="#d7eef6" stroke="#bddfec" stroke-width="0.8"/><circle cx="10.9" cy="14.4" r="3.1" fill="#b6e0ee"/></g></g>
<g transform="translate(166.90,786.50)"><g transform="translate(-12.4,-11)"><circle cx="6.7" cy="7.1" r="6.25" fill="#d7eef6" stroke="#bddfec" stroke-width="0.8"/><circle cx="8.5" cy="7.4" r="2.9" fill="#b6e0ee"/><circle cx="18.0" cy="7.3" r="6.25" fill="#d7eef6" stroke="#bddfec" stroke-width="0.8"/><circle cx="16.8" cy="7.6" r="2.9" fill="#b6e0ee"/><circle cx="10.6" cy="14.6" r="6.9" fill="#d7eef6" stroke="#bddfec" stroke-width="0.8"/><circle cx="10.9" cy="14.4" r="3.1" fill="#b6e0ee"/></g></g>
<g transform="translate(240.00,774.00)"><g transform="translate(-12.4,-11)"><circle cx="6.7" cy="7.1" r="6.25" fill="#f4d8f4" stroke="#ebc8ee" stroke-width="0.6"/><circle cx="8.5" cy="7.4" r="2.9" fill="#e2b9e6"/><circle cx="18.0" cy="7.3" r="6.25" fill="#f4d8f4" stroke="#ebc8ee" stroke-width="0.6"/><circle cx="16.8" cy="7.6" r="2.9" fill="#e2b9e6"/><circle cx="10.6" cy="14.6" r="6.9" fill="#f4d8f4" stroke="#ebc8ee" stroke-width="0.6"/><circle cx="10.9" cy="14.4" r="3.1" fill="#e2b9e6"/></g></g>
<g transform="translate(272.00,774.00)"><g transform="translate(-12.4,-11)"><circle cx="6.7" cy="7.1" r="6.25" fill="#f4d8f4" stroke="#ebc8ee" stroke-width="0.6"/><circle cx="8.5" cy="7.4" r="2.9" fill="#e2b9e6"/><circle cx="18.0" cy="7.3" r="6.25" fill="#f4d8f4" stroke="#ebc8ee" stroke-width="0.6"/><circle cx="16.8" cy="7.6" r="2.9" fill="#e2b9e6"/><circle cx="10.6" cy="14.6" r="6.9" fill="#f4d8f4" stroke="#ebc8ee" stroke-width="0.6"/><circle cx="10.9" cy="14.4" r="3.1" fill="#e2b9e6"/></g></g>
<g transform="translate(306.50,774.00)"><g transform="translate(-12.4,-11)"><circle cx="6.7" cy="7.1" r="6.25" fill="#f4d8f4" stroke="#ebc8ee" stroke-width="0.6"/><circle cx="8.5" cy="7.4" r="2.9" fill="#e2b9e6"/><circle cx="18.0" cy="7.3" r="6.25" fill="#f4d8f4" stroke="#ebc8ee" stroke-width="0.6"/><circle cx="16.8" cy="7.6" r="2.9" fill="#e2b9e6"/><circle cx="10.6" cy="14.6" r="6.9" fill="#f4d8f4" stroke="#ebc8ee" stroke-width="0.6"/><circle cx="10.9" cy="14.4" r="3.1" fill="#e2b9e6"/></g></g>
<g transform="translate(403.00,782.80)"><g transform="translate(-12.4,-11)"><circle cx="6.7" cy="7.1" r="6.25" fill="#d7eef6" stroke="#bddfec" stroke-width="0.8"/><circle cx="8.5" cy="7.4" r="2.9" fill="#b6e0ee"/><circle cx="18.0" cy="7.3" r="6.25" fill="#d7eef6" stroke="#bddfec" stroke-width="0.8"/><circle cx="16.8" cy="7.6" r="2.9" fill="#b6e0ee"/><circle cx="10.6" cy="14.6" r="6.9" fill="#d7eef6" stroke="#bddfec" stroke-width="0.8"/><circle cx="10.9" cy="14.4" r="3.1" fill="#b6e0ee"/></g></g>
<g transform="translate(436.30,782.80)"><g transform="translate(-12.4,-11)"><circle cx="6.7" cy="7.1" r="6.25" fill="#d7eef6" stroke="#bddfec" stroke-width="0.8"/><circle cx="8.5" cy="7.4" r="2.9" fill="#b6e0ee"/><circle cx="18.0" cy="7.3" r="6.25" fill="#d7eef6" stroke="#bddfec" stroke-width="0.8"/><circle cx="16.8" cy="7.6" r="2.9" fill="#b6e0ee"/><circle cx="10.6" cy="14.6" r="6.9" fill="#d7eef6" stroke="#bddfec" stroke-width="0.8"/><circle cx="10.9" cy="14.4" r="3.1" fill="#b6e0ee"/></g></g>
<polyline points="270.4,784.5 270.4,788.6 304.4,788.6 304.4,784.5" fill="none" stroke="#efbfe6" stroke-width="0.8"/>
<text x="61.30" y="806.50" font-size="7.5" text-anchor="middle" fill="#1a1a1a" stroke="#1a1a1a" stroke-width="0.18">N</text>
<text x="131.70" y="806.50" font-size="7.5" text-anchor="middle" fill="#1a1a1a" stroke="#1a1a1a" stroke-width="0.18">7q-/20q-</text>
<text x="166.40" y="806.50" font-size="7.5" text-anchor="middle" fill="#1a1a1a" stroke="#1a1a1a" stroke-width="0.18">N</text>
<text x="239.20" y="798.10" font-size="7.5" text-anchor="middle" fill="#1a1a1a" stroke="#1a1a1a" stroke-width="0.18">2q+,</text>
<text x="290.80" y="798.10" font-size="7.5" text-anchor="middle" fill="#1a1a1a" stroke="#1a1a1a" stroke-width="0.18">2q+,7q-,13q+,</text>
<text x="238.60" y="806.90" font-size="7.5" text-anchor="middle" fill="#1a1a1a" stroke="#1a1a1a" stroke-width="0.18">7q-,20q-</text>
<text x="290.10" y="806.90" font-size="7.5" text-anchor="middle" fill="#1a1a1a" stroke="#1a1a1a" stroke-width="0.18">20q-</text>
<text x="401.60" y="806.90" font-size="7.5" text-anchor="middle" fill="#1a1a1a" stroke="#1a1a1a" stroke-width="0.18">N</text>
<text x="435.20" y="806.90" font-size="7.5" text-anchor="middle" fill="#1a1a1a" stroke="#1a1a1a" stroke-width="0.18">N</text>
<polygon points="34.1,809.2 551.5,809.2 586,815.1 551.5,821 34.1,821" fill="#edf3fc" stroke="#93acda" stroke-width="1.4"/>
<rect x="34.1" y="809.2" width="98.70000000000002" height="11.799999999999955" fill="#f0b042"/>
<polygon points="34.1,809.2 551.5,809.2 586,815.1 551.5,821 34.1,821" fill="none" stroke="#a3b3d8" stroke-width="1.2"/>
<text x="0.00" y="0.00" font-size="7.4" text-anchor="start" font-weight="bold" fill="#1a1a1a" transform="translate(36.10,817.70) scale(0.87,1.0)">Time after the 2nd transplant (months)</text>
<text x="592.40" y="806.60" font-size="7.5" text-anchor="start" fill="#1a1a1a" stroke="#1a1a1a" stroke-width="0.18">No</text>
<text x="590.20" y="815.00" font-size="7.5" text-anchor="start" fill="#1a1a1a" stroke="#1a1a1a" stroke-width="0.18">leukemia</text>
<text x="590.20" y="823.20" font-size="7.5" text-anchor="start" fill="#1a1a1a" stroke="#1a1a1a" stroke-width="0.18">clinically</text>
<text x="0.00" y="0.00" font-size="13.5" text-anchor="middle" fill="#151515" transform="translate(37.40,834.40) scale(1.0,1.08)">0</text>
<text x="0.00" y="0.00" font-size="13.5" text-anchor="middle" fill="#151515" transform="translate(68.60,834.40) scale(1.0,1.08)">2</text>
<text x="0.00" y="0.00" font-size="13.5" text-anchor="middle" fill="#151515" transform="translate(106.60,834.40) scale(1.0,1.08)">4</text>
<text x="0.00" y="0.00" font-size="13.5" text-anchor="middle" fill="#151515" transform="translate(136.60,834.40) scale(1.0,1.08)">6</text>
<text x="0.00" y="0.00" font-size="13.5" text-anchor="middle" fill="#151515" transform="translate(170.80,834.40) scale(1.0,1.08)">8</text>
<text x="0.00" y="0.00" font-size="13.5" text-anchor="middle" fill="#151515" transform="translate(202.60,834.40) scale(1.0,1.08)">10</text>
<text x="0.00" y="0.00" font-size="13.5" text-anchor="middle" fill="#151515" transform="translate(237.20,834.40) scale(1.0,1.08)">12</text>
<text x="0.00" y="0.00" font-size="13.5" text-anchor="middle" fill="#151515" transform="translate(272.40,834.40) scale(1.0,1.08)">18</text>
<text x="0.00" y="0.00" font-size="13.5" text-anchor="middle" fill="#151515" transform="translate(307.70,834.40) scale(1.0,1.08)">24</text>
<text x="0.00" y="0.00" font-size="13.5" text-anchor="middle" fill="#151515" transform="translate(342.30,834.40) scale(1.0,1.08)">30</text>
<text x="0.00" y="0.00" font-size="13.5" text-anchor="middle" fill="#151515" transform="translate(400.80,834.40) scale(1.0,1.08)">36</text>
<text x="0.00" y="0.00" font-size="13.5" text-anchor="middle" fill="#151515" transform="translate(433.00,834.40) scale(1.0,1.08)">48</text>
<text x="0.00" y="0.00" font-size="13.5" text-anchor="middle" fill="#151515" transform="translate(471.80,834.40) scale(1.0,1.08)">---</text>
<text x="0.00" y="0.00" font-size="13.5" text-anchor="middle" fill="#151515" transform="translate(565.70,834.40) scale(1.0,1.08)">121</text>
<text x="0.00" y="0.00" font-size="14" text-anchor="start" fill="#1a1a1a" transform="translate(6.00,885.00) scale(0.9,1.0)">C4</text>
<text x="3.80" y="900.50" font-size="5.6" text-anchor="start" fill="#1a1a1a">Karyotype</text>
<g transform="translate(47.70,879.00)"><g transform="translate(-12.4,-11)"><circle cx="6.7" cy="7.1" r="6.25" fill="#d7eef6" stroke="#bddfec" stroke-width="0.8"/><circle cx="8.5" cy="7.4" r="2.9" fill="#b6e0ee"/><circle cx="18.0" cy="7.3" r="6.25" fill="#d7eef6" stroke="#bddfec" stroke-width="0.8"/><circle cx="16.8" cy="7.6" r="2.9" fill="#b6e0ee"/><circle cx="10.6" cy="14.6" r="6.9" fill="#d7eef6" stroke="#bddfec" stroke-width="0.8"/><circle cx="10.9" cy="14.4" r="3.1" fill="#b6e0ee"/></g></g>
<g transform="translate(77.00,879.00)"><g transform="translate(-12.4,-11)"><circle cx="6.7" cy="7.1" r="6.25" fill="#d7eef6" stroke="#bddfec" stroke-width="0.8"/><circle cx="8.5" cy="7.4" r="2.9" fill="#b6e0ee"/><circle cx="18.0" cy="7.3" r="6.25" fill="#d7eef6" stroke="#bddfec" stroke-width="0.8"/><circle cx="16.8" cy="7.6" r="2.9" fill="#b6e0ee"/><circle cx="10.6" cy="14.6" r="6.9" fill="#d7eef6" stroke="#bddfec" stroke-width="0.8"/><circle cx="10.9" cy="14.4" r="3.1" fill="#b6e0ee"/></g></g>
<g transform="translate(106.60,879.00)"><g transform="translate(-12.4,-11)"><circle cx="6.7" cy="7.1" r="6.25" fill="#d7eef6" stroke="#bddfec" stroke-width="0.8"/><circle cx="8.5" cy="7.4" r="2.9" fill="#b6e0ee"/><circle cx="18.0" cy="7.3" r="6.25" fill="#d7eef6" stroke="#bddfec" stroke-width="0.8"/><circle cx="16.8" cy="7.6" r="2.9" fill="#b6e0ee"/><circle cx="10.6" cy="14.6" r="6.9" fill="#d7eef6" stroke="#bddfec" stroke-width="0.8"/><circle cx="10.9" cy="14.4" r="3.1" fill="#b6e0ee"/></g></g>
<g transform="translate(136.00,879.00)"><g transform="translate(-12.4,-11)"><circle cx="6.7" cy="7.1" r="6.25" fill="#d7eef6" stroke="#bddfec" stroke-width="0.8"/><circle cx="8.5" cy="7.4" r="2.9" fill="#b6e0ee"/><circle cx="18.0" cy="7.3" r="6.25" fill="#d7eef6" stroke="#bddfec" stroke-width="0.8"/><circle cx="16.8" cy="7.6" r="2.9" fill="#b6e0ee"/><circle cx="10.6" cy="14.6" r="6.9" fill="#d7eef6" stroke="#bddfec" stroke-width="0.8"/><circle cx="10.9" cy="14.4" r="3.1" fill="#b6e0ee"/></g></g>
<g transform="translate(183.20,879.00)"><g transform="translate(-12.4,-11)"><circle cx="6.7" cy="7.1" r="6.25" fill="#d7eef6" stroke="#bddfec" stroke-width="0.8"/><circle cx="8.5" cy="7.4" r="2.9" fill="#b6e0ee"/><circle cx="18.0" cy="7.3" r="6.25" fill="#d7eef6" stroke="#bddfec" stroke-width="0.8"/><circle cx="16.8" cy="7.6" r="2.9" fill="#b6e0ee"/><circle cx="10.6" cy="14.6" r="6.9" fill="#d7eef6" stroke="#bddfec" stroke-width="0.8"/><circle cx="10.9" cy="14.4" r="3.1" fill="#b6e0ee"/></g></g>
<g transform="translate(230.80,879.00)"><g transform="translate(-12.4,-11)"><circle cx="6.7" cy="7.1" r="6.25" fill="#d7eef6" stroke="#bddfec" stroke-width="0.8"/><circle cx="8.5" cy="7.4" r="2.9" fill="#b6e0ee"/><circle cx="18.0" cy="7.3" r="6.25" fill="#d7eef6" stroke="#bddfec" stroke-width="0.8"/><circle cx="16.8" cy="7.6" r="2.9" fill="#b6e0ee"/><circle cx="10.6" cy="14.6" r="6.9" fill="#d7eef6" stroke="#bddfec" stroke-width="0.8"/><circle cx="10.9" cy="14.4" r="3.1" fill="#b6e0ee"/></g></g>
<polyline points="75.3,888 75.3,893.8 229.6,893.8 229.6,888" fill="none" stroke="#d2e8f2" stroke-width="0.8"/>
<text x="45.30" y="902.60" font-size="7.5" text-anchor="middle" fill="#1a1a1a" stroke="#1a1a1a" stroke-width="0.18">N</text>
<text x="143.40" y="903.00" font-size="7.8" text-anchor="middle" fill="#1a1a1a" stroke="#1a1a1a" stroke-width="0.18">+i(9)(p10)</text>
<polygon points="34.1,904.7 246.7,904.7 280.7,910.6500000000001 246.7,916.6 34.1,916.6" fill="#edf3fc" stroke="#93acda" stroke-width="1.4"/>
<rect x="34.1" y="904.7" width="41.199999999999996" height="11.899999999999977" fill="#f0b042"/>
<polygon points="34.1,904.7 246.7,904.7 280.7,910.6500000000001 246.7,916.6 34.1,916.6" fill="none" stroke="#a3b3d8" stroke-width="1.2"/>
<text x="0.00" y="0.00" font-size="7.4" text-anchor="start" font-weight="bold" fill="#1a1a1a" transform="translate(36.10,913.25) scale(0.87,1.0)">Time after transplant (months)</text>
<text x="285.80" y="905.30" font-size="7.5" text-anchor="start" fill="#1a1a1a" stroke="#1a1a1a" stroke-width="0.18">No</text>
<text x="283.80" y="913.70" font-size="7.5" text-anchor="start" fill="#1a1a1a" stroke="#1a1a1a" stroke-width="0.18">leukemia</text>
<text x="283.80" y="921.90" font-size="7.5" text-anchor="start" fill="#1a1a1a" stroke="#1a1a1a" stroke-width="0.18">clinically</text>
<text x="0.00" y="0.00" font-size="13.5" text-anchor="middle" fill="#151515" transform="translate(37.40,932.30) scale(1.0,1.08)">0</text>
<text x="0.00" y="0.00" font-size="13.5" text-anchor="middle" fill="#151515" transform="translate(68.60,932.30) scale(1.0,1.08)">2</text>
<text x="0.00" y="0.00" font-size="13.5" text-anchor="middle" fill="#151515" transform="translate(106.60,932.30) scale(1.0,1.08)">4</text>
<text x="0.00" y="0.00" font-size="13.5" text-anchor="middle" fill="#151515" transform="translate(137.20,932.30) scale(1.0,1.08)">6</text>
<text x="0.00" y="0.00" font-size="13.5" text-anchor="middle" fill="#151515" transform="translate(170.80,932.30) scale(1.0,1.08)">8</text>
<text x="0.00" y="0.00" font-size="13.5" text-anchor="middle" fill="#151515" transform="translate(202.20,932.30) scale(1.0,1.08)">10</text>
<text x="0.00" y="0.00" font-size="13.5" text-anchor="middle" fill="#151515" transform="translate(237.60,932.30) scale(1.0,1.08)">12</text>
<g transform="translate(493.50,863.20)"><g transform="translate(-12.4,-11)"><circle cx="6.7" cy="7.1" r="6.25" fill="#d7eef6" stroke="#bddfec" stroke-width="0.8"/><circle cx="8.5" cy="7.4" r="2.9" fill="#b6e0ee"/><circle cx="18.0" cy="7.3" r="6.25" fill="#d7eef6" stroke="#bddfec" stroke-width="0.8"/><circle cx="16.8" cy="7.6" r="2.9" fill="#b6e0ee"/><circle cx="10.6" cy="14.6" r="6.9" fill="#d7eef6" stroke="#bddfec" stroke-width="0.8"/><circle cx="10.9" cy="14.4" r="3.1" fill="#b6e0ee"/></g></g>
<text x="509.40" y="861.80" font-size="7.75" text-anchor="start" fill="#1a1a1a" stroke="#1a1a1a" stroke-width="0.18">No evidence of cancer</text>
<text x="509.40" y="869.70" font-size="7.75" text-anchor="start" fill="#1a1a1a" stroke="#1a1a1a" stroke-width="0.18">by pathologic findings</text>
<g transform="translate(493.50,894.00)"><g transform="translate(-12.4,-11)"><circle cx="6.7" cy="7.1" r="6.25" fill="#f4d8f4" stroke="#ebc8ee" stroke-width="0.6"/><circle cx="8.5" cy="7.4" r="2.9" fill="#e2b9e6"/><circle cx="18.0" cy="7.3" r="6.25" fill="#f4d8f4" stroke="#ebc8ee" stroke-width="0.6"/><circle cx="16.8" cy="7.6" r="2.9" fill="#e2b9e6"/><circle cx="10.6" cy="14.6" r="6.9" fill="#f4d8f4" stroke="#ebc8ee" stroke-width="0.6"/><circle cx="10.9" cy="14.4" r="3.1" fill="#e2b9e6"/></g></g>
<text x="509.40" y="886.80" font-size="7.75" text-anchor="start" fill="#1a1a1a" stroke="#1a1a1a" stroke-width="0.18">No evidence of cancer</text>
<text x="509.40" y="895.35" font-size="7.75" text-anchor="start" fill="#1a1a1a" stroke="#1a1a1a" stroke-width="0.18">by pathologic findings,</text>
<text x="509.40" y="903.90" font-size="7.75" text-anchor="start" fill="#1a1a1a" stroke="#1a1a1a" stroke-width="0.18">but with dysplastic cells.</text>
<g transform="translate(494.70,932.10) scale(1.03)"><g fill="#f9d9db" opacity="0.55"><circle cx="10.36" cy="0.56" r="4.9"/><circle cx="7.70" cy="6.82" r="4.9"/><circle cx="1.87" cy="10.32" r="4.9"/><circle cx="-4.90" cy="9.73" r="4.9"/><circle cx="-10.03" cy="5.27" r="4.9"/><circle cx="-11.56" cy="-1.36" r="4.9"/><circle cx="-8.90" cy="-7.62" r="4.9"/><circle cx="-3.07" cy="-11.12" r="4.9"/><circle cx="3.70" cy="-10.53" r="4.9"/><circle cx="8.83" cy="-6.07" r="4.9"/></g><g fill="#f7c8cb" opacity="0.75"><circle cx="10.36" cy="0.56" r="4.1"/><circle cx="7.70" cy="6.82" r="4.1"/><circle cx="1.87" cy="10.32" r="4.1"/><circle cx="-4.90" cy="9.73" r="4.1"/><circle cx="-10.03" cy="5.27" r="4.1"/><circle cx="-11.56" cy="-1.36" r="4.1"/><circle cx="-8.90" cy="-7.62" r="4.1"/><circle cx="-3.07" cy="-11.12" r="4.1"/><circle cx="3.70" cy="-10.53" r="4.1"/><circle cx="8.83" cy="-6.07" r="4.1"/></g><circle cx="5.5" cy="7.8" r="5" fill="#f5b8bc"/><circle cx="-0.5" cy="-10.5" r="4.5" fill="#f6c0c4"/><g fill="#f3a4a9" stroke="#e68d93" stroke-width="0.6"><circle cx="-4.10" cy="-6.00" r="5.7"/><circle cx="4.30" cy="-6.40" r="5.7"/><circle cx="-9.20" cy="1.60" r="5.7"/><circle cx="5.20" cy="1.60" r="5.7"/><circle cx="-2.20" cy="6.20" r="5.7"/><circle cx="0.00" cy="0.00" r="5.7"/></g><g fill="#d8757c"><circle cx="-4.10" cy="-6.00" r="2.3"/><circle cx="4.30" cy="-6.40" r="2.3"/><circle cx="-9.20" cy="1.60" r="2.3"/><circle cx="5.20" cy="1.60" r="2.3"/><circle cx="-2.20" cy="6.20" r="2.3"/><circle cx="0.00" cy="0.00" r="2.3"/></g></g>
<text x="511.20" y="921.70" font-size="7.75" text-anchor="start" fill="#1a1a1a" stroke="#1a1a1a" stroke-width="0.18">Relapse/therapy-</text>
<text x="511.20" y="930.25" font-size="7.75" text-anchor="start" fill="#1a1a1a" stroke="#1a1a1a" stroke-width="0.18">related MDS by</text>
<text x="511.20" y="938.80" font-size="7.75" text-anchor="start" fill="#1a1a1a" stroke="#1a1a1a" stroke-width="0.18">pathologic findings</text>
</svg>
</body></html>
